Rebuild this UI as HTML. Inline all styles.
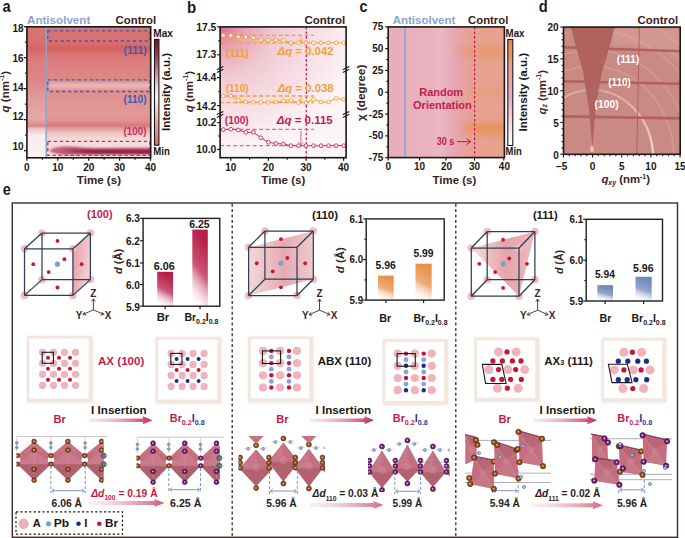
<!DOCTYPE html>
<html><head><meta charset="utf-8"><title>figure</title>
<style>html,body{margin:0;padding:0;background:#ffffff;} body{width:685px;height:538px;overflow:hidden;font-family:"Liberation Sans",sans-serif;} svg{display:block;}</style>
</head><body>
<svg width="685" height="538" viewBox="0 0 685 538" font-family="Liberation Sans, sans-serif"><defs><filter id="blur1" x="-20%" y="-50%" width="140%" height="200%"><feGaussianBlur stdDeviation="1.2"/></filter><filter id="blur2" x="-20%" y="-50%" width="140%" height="200%"><feGaussianBlur stdDeviation="2"/></filter><filter id="blur3" x="-30%" y="-80%" width="160%" height="260%"><feGaussianBlur stdDeviation="3"/></filter><filter id="blur05" x="-10%" y="-10%" width="120%" height="120%"><feGaussianBlur stdDeviation="0.5"/></filter><filter id="shadow" x="-10%" y="-10%" width="130%" height="130%"><feGaussianBlur stdDeviation="0.8"/></filter><clipPath id="clipA"><rect x="26.9" y="26.8" width="123.8" height="131"/></clipPath><linearGradient id="gaR" x1="0" y1="0" x2="0" y2="1"><stop offset="0.0" stop-color="#d87474"/><stop offset="0.1008" stop-color="#d87272"/><stop offset="0.1389" stop-color="#d86a6a"/><stop offset="0.1649" stop-color="#d65e5e"/><stop offset="0.1924" stop-color="#d86c6c"/><stop offset="0.2382" stop-color="#db7a7a"/><stop offset="0.3298" stop-color="#dd8282"/><stop offset="0.4061" stop-color="#df8888"/><stop offset="0.4977" stop-color="#e08e8e"/><stop offset="0.5588" stop-color="#e09494"/><stop offset="0.6733" stop-color="#e29898"/><stop offset="0.7191" stop-color="#df9090"/><stop offset="0.7542" stop-color="#d97878"/><stop offset="0.7802" stop-color="#e4a4a4"/><stop offset="0.8107" stop-color="#eec4c4"/><stop offset="0.8489" stop-color="#f4d8d8"/><stop offset="0.9023" stop-color="#f5dcdc"/><stop offset="1.0" stop-color="#f8e6e6"/></linearGradient><linearGradient id="gaL" x1="0" y1="0" x2="0" y2="1"><stop offset="0.0" stop-color="#d87676"/><stop offset="0.1389" stop-color="#d86c6c"/><stop offset="0.1649" stop-color="#d76262"/><stop offset="0.1924" stop-color="#d86e6e"/><stop offset="0.2534" stop-color="#db7c7c"/><stop offset="0.4061" stop-color="#dd8686"/><stop offset="0.5588" stop-color="#e39c9c"/><stop offset="0.6962" stop-color="#e6a8a8"/><stop offset="0.7267" stop-color="#e29c9c"/><stop offset="0.7542" stop-color="#dc8484"/><stop offset="0.7802" stop-color="#eec4c4"/><stop offset="0.826" stop-color="#f8ebeb"/><stop offset="1.0" stop-color="#fbf3f3"/></linearGradient><linearGradient id="gaM" x1="0" y1="0" x2="1" y2="0"><stop offset="0" stop-color="#8a1838" stop-opacity="0"/><stop offset="0.06" stop-color="#8a1838" stop-opacity="0.6"/><stop offset="0.15" stop-color="#8a1838" stop-opacity="1"/><stop offset="1" stop-color="#8a1838" stop-opacity="1"/></linearGradient><linearGradient id="gaCore" x1="0" y1="0" x2="1" y2="0"><stop offset="0" stop-color="#8a1a3c" stop-opacity="0"/><stop offset="0.2" stop-color="#8a1a3c" stop-opacity="0.6"/><stop offset="0.35" stop-color="#8a1a3c" stop-opacity="1"/><stop offset="1" stop-color="#8a1a3c" stop-opacity="1"/></linearGradient><linearGradient id="gcbA" x1="0" y1="0" x2="0" y2="1"><stop offset="0" stop-color="#7a1030"/><stop offset="0.2" stop-color="#a85068"/><stop offset="0.45" stop-color="#eed8dc"/><stop offset="0.55" stop-color="#fbf4f4"/><stop offset="0.75" stop-color="#eab4b4"/><stop offset="1" stop-color="#d86c6c"/></linearGradient><radialGradient id="gbBG" gradientUnits="userSpaceOnUse" cx="0" cy="0" r="1" gradientTransform="translate(220,27) scale(140,125)"><stop offset="0" stop-color="#dc7090"/><stop offset="0.18" stop-color="#e8a4b4"/><stop offset="0.38" stop-color="#f0c8d2"/><stop offset="0.58" stop-color="#f5d8e0"/><stop offset="0.78" stop-color="#f8e6ea"/><stop offset="0.94" stop-color="#fbf2f4"/><stop offset="1" stop-color="#fcf5f7"/></radialGradient><linearGradient id="gcBG" x1="0" y1="0" x2="1" y2="0"><stop offset="0" stop-color="#e7aebb"/><stop offset="0.35" stop-color="#e9b2be"/><stop offset="0.46" stop-color="#ebb8c4"/><stop offset="0.54" stop-color="#e8a9b8"/><stop offset="0.61" stop-color="#e7a4aa"/><stop offset="0.69" stop-color="#e7a296"/><stop offset="0.78" stop-color="#e7a18e"/><stop offset="1" stop-color="#e6a28e"/></linearGradient><clipPath id="clipC"><rect x="388.2" y="26.9" width="116.2" height="130.7"/></clipPath><linearGradient id="gcbC" x1="0" y1="0" x2="0" y2="1"><stop offset="0" stop-color="#e88a38"/><stop offset="0.25" stop-color="#e8a090"/><stop offset="0.55" stop-color="#e8b0c0"/><stop offset="0.8" stop-color="#f4dde4"/><stop offset="1" stop-color="#ffffff"/></linearGradient><clipPath id="clipD"><rect x="563.5" y="27.1" width="116.7" height="127.2"/></clipPath><linearGradient id="gring" x1="0" y1="90" x2="0" y2="158" gradientUnits="userSpaceOnUse"><stop offset="0" stop-color="#dcaa9c"/><stop offset="0.5" stop-color="#e8c0b0"/><stop offset="1" stop-color="#f4dccb"/></linearGradient><linearGradient id="gpl100" x1="0" y1="0" x2="1" y2="0.4"><stop offset="0" stop-color="#e49aa2"/><stop offset="1" stop-color="#f3d0d3"/></linearGradient><linearGradient id="gpl110" x1="0" y1="0" x2="1" y2="0"><stop offset="0" stop-color="#f3d6d8"/><stop offset="0.55" stop-color="#e2a6ae"/><stop offset="1" stop-color="#efc8cc"/></linearGradient><linearGradient id="gpl111" x1="0" y1="0" x2="1" y2="0"><stop offset="0" stop-color="#f6dcdc"/><stop offset="0.55" stop-color="#e3a4aa"/><stop offset="1" stop-color="#eebcc0"/></linearGradient><linearGradient id="gb100" x1="0.25" y1="0" x2="0" y2="1"><stop offset="0" stop-color="#b81e48"/><stop offset="0.45" stop-color="#b81e48" stop-opacity="0.75"/><stop offset="1" stop-color="#ffffff" stop-opacity="0"/></linearGradient><linearGradient id="gb110" x1="0.25" y1="0" x2="0" y2="1"><stop offset="0" stop-color="#e8914a"/><stop offset="0.45" stop-color="#e8914a" stop-opacity="0.75"/><stop offset="1" stop-color="#ffffff" stop-opacity="0"/></linearGradient><linearGradient id="gb111" x1="0.25" y1="0" x2="0" y2="1"><stop offset="0" stop-color="#6f87b8"/><stop offset="0.45" stop-color="#6f87b8" stop-opacity="0.75"/><stop offset="1" stop-color="#ffffff" stop-opacity="0"/></linearGradient><linearGradient id="gar89" x1="0" y1="0" x2="1" y2="0"><stop offset="0" stop-color="#f3c8d0" stop-opacity="0.35"/><stop offset="1" stop-color="#c42a50"/></linearGradient><linearGradient id="gar309" x1="0" y1="0" x2="1" y2="0"><stop offset="0" stop-color="#f3c8d0" stop-opacity="0.35"/><stop offset="1" stop-color="#c42a50"/></linearGradient><linearGradient id="gar533" x1="0" y1="0" x2="1" y2="0"><stop offset="0" stop-color="#f3c8d0" stop-opacity="0.35"/><stop offset="1" stop-color="#c42a50"/></linearGradient><clipPath id="cs1"><rect x="16.5" y="430" width="87" height="60"/></clipPath><clipPath id="cs2"><rect x="136.5" y="430" width="83.3" height="60"/></clipPath><clipPath id="cl238"><rect x="238.5" y="430" width="86.5" height="62"/></clipPath><clipPath id="cl368"><rect x="368" y="430" width="81.5" height="62"/></clipPath><clipPath id="cl111a"><rect x="465" y="428" width="90" height="66"/></clipPath><clipPath id="cl111b"><rect x="590" y="428" width="82" height="66"/></clipPath><linearGradient id="gdd1" x1="0" y1="0" x2="1" y2="0"><stop offset="0" stop-color="#f6d6dc" stop-opacity="0.35"/><stop offset="1" stop-color="#d05a78"/></linearGradient><linearGradient id="gdd2" x1="0" y1="0" x2="1" y2="0"><stop offset="0" stop-color="#f6d6dc" stop-opacity="0.35"/><stop offset="1" stop-color="#d86a80"/></linearGradient><linearGradient id="gdd3" x1="0" y1="0" x2="1" y2="0"><stop offset="0" stop-color="#f6d6dc" stop-opacity="0.35"/><stop offset="1" stop-color="#d86a80"/></linearGradient></defs><g clip-path="url(#clipA)"><rect x="26.9" y="26.8" width="19.3" height="131" fill="url(#gaL)" stroke="none" stroke-width="1" /><rect x="46.2" y="26.8" width="104.5" height="131" fill="url(#gaR)" stroke="none" stroke-width="1" /><rect x="49" y="82.0" width="105" height="7.5" fill="#e6a6a6" filter="url(#blur1)"/><rect x="49" y="84.2" width="105" height="3.0" fill="#ecbaba" filter="url(#blur1)"/><path d="M49,150.6 C54,146.2 68,145.6 82,147.4 C95,148.2 120,147.8 155,147.8 L155,154.6 C120,154.6 95,154.6 82,154.6 C68,155.6 54,155.2 49,150.6 Z" fill="#c06078" filter="url(#blur1)"/><path d="M58,150.8 C66,148.8 78,148.8 90,149.7 C110,150 130,149.8 155,149.8 L155,153.4 C130,153.4 110,153.4 90,153.4 C78,153.6 66,153.4 58,150.8 Z" fill="url(#gaCore)" filter="url(#blur1)"/></g><line x1="46.2" y1="26.8" x2="46.2" y2="157.8" stroke="#8da3cf" stroke-width="1.5" /><rect x="47.8" y="30.8" width="102" height="10.2" fill="none" stroke="#3a5cb0" stroke-width="1.3" stroke-dasharray="3.3,2.7"/><rect x="47.8" y="79.9" width="102" height="11.6" fill="none" stroke="#3a5cb0" stroke-width="1.3" stroke-dasharray="3.3,2.7"/><rect x="47.8" y="141.4" width="102" height="14" fill="none" stroke="#c8305a" stroke-width="1.3" stroke-dasharray="3.3,2.7"/><rect x="26.9" y="26.8" width="123.8" height="131" fill="none" stroke="#1c1616" stroke-width="1.6" /><line x1="23.9" y1="150.6" x2="26.9" y2="150.6" stroke="#1c1616" stroke-width="1.3" /><line x1="24.9" y1="135.11" x2="26.9" y2="135.11" stroke="#1c1616" stroke-width="1.1" /><line x1="23.9" y1="119.62" x2="26.9" y2="119.62" stroke="#1c1616" stroke-width="1.3" /><line x1="24.9" y1="104.13" x2="26.9" y2="104.13" stroke="#1c1616" stroke-width="1.1" /><line x1="23.9" y1="88.64" x2="26.9" y2="88.64" stroke="#1c1616" stroke-width="1.3" /><line x1="24.9" y1="73.15" x2="26.9" y2="73.15" stroke="#1c1616" stroke-width="1.1" /><line x1="23.9" y1="57.66" x2="26.9" y2="57.66" stroke="#1c1616" stroke-width="1.3" /><line x1="24.9" y1="42.17" x2="26.9" y2="42.17" stroke="#1c1616" stroke-width="1.1" /><line x1="23.9" y1="26.68" x2="26.9" y2="26.68" stroke="#1c1616" stroke-width="1.3" /><text x="23.6" y="31.6" font-size="10" font-weight="bold" fill="#1c1616" text-anchor="end" >18</text><text x="23.6" y="61.6" font-size="10" font-weight="bold" fill="#1c1616" text-anchor="end" >16</text><text x="23.6" y="91" font-size="10" font-weight="bold" fill="#1c1616" text-anchor="end" >14</text><text x="23.6" y="120.4" font-size="10" font-weight="bold" fill="#1c1616" text-anchor="end" >12</text><text x="23.6" y="149.6" font-size="10" font-weight="bold" fill="#1c1616" text-anchor="end" >10</text><line x1="26.9" y1="157.8" x2="26.9" y2="160.8" stroke="#1c1616" stroke-width="1.2" /><line x1="42.35" y1="157.8" x2="42.35" y2="159.8" stroke="#1c1616" stroke-width="1.2" /><line x1="57.8" y1="157.8" x2="57.8" y2="160.8" stroke="#1c1616" stroke-width="1.2" /><line x1="73.25" y1="157.8" x2="73.25" y2="159.8" stroke="#1c1616" stroke-width="1.2" /><line x1="88.7" y1="157.8" x2="88.7" y2="160.8" stroke="#1c1616" stroke-width="1.2" /><line x1="104.15" y1="157.8" x2="104.15" y2="159.8" stroke="#1c1616" stroke-width="1.2" /><line x1="119.6" y1="157.8" x2="119.6" y2="160.8" stroke="#1c1616" stroke-width="1.2" /><line x1="135.05" y1="157.8" x2="135.05" y2="159.8" stroke="#1c1616" stroke-width="1.2" /><line x1="150.5" y1="157.8" x2="150.5" y2="160.8" stroke="#1c1616" stroke-width="1.2" /><text x="26.9" y="171.2" font-size="10" font-weight="bold" fill="#1c1616" text-anchor="middle" >0</text><text x="57.8" y="171.2" font-size="10" font-weight="bold" fill="#1c1616" text-anchor="middle" >10</text><text x="88.7" y="171.2" font-size="10" font-weight="bold" fill="#1c1616" text-anchor="middle" >20</text><text x="119.6" y="171.2" font-size="10" font-weight="bold" fill="#1c1616" text-anchor="middle" >30</text><text x="150.5" y="171.2" font-size="10" font-weight="bold" fill="#1c1616" text-anchor="middle" >40</text><text x="98.9" y="183.8" font-size="11.5" font-weight="bold" fill="#3a2222" text-anchor="middle" textLength="44.2" lengthAdjust="spacingAndGlyphs" >Time (s)</text><text transform="translate(5.3,91.7) rotate(-90)" x="0" y="0" font-size="11.5" font-weight="bold" fill="#3a2222" text-anchor="middle" dominant-baseline="central" textLength="41.5" lengthAdjust="spacingAndGlyphs"><tspan font-style="italic">q</tspan> (nm<tspan font-size="7" dy="-4">-1</tspan><tspan dy="4">)</tspan></text><text x="2.6" y="12" font-size="16" font-weight="bold" fill="#1c1616" text-anchor="start" textLength="8.2" lengthAdjust="spacingAndGlyphs" >a</text><text x="27" y="23.8" font-size="11.5" font-weight="bold" fill="#8da3cf" text-anchor="start" textLength="63.3" lengthAdjust="spacingAndGlyphs" >Antisolvent</text><text x="115.6" y="23.9" font-size="11.5" font-weight="bold" fill="#3a2222" text-anchor="start" textLength="40.5" lengthAdjust="spacingAndGlyphs" >Control</text><text x="123.6" y="54.3" font-size="10.5" font-weight="bold" fill="#3a5cb0" text-anchor="start" textLength="23" lengthAdjust="spacingAndGlyphs" >(111)</text><text x="123.6" y="102.6" font-size="10.5" font-weight="bold" fill="#3a5cb0" text-anchor="start" textLength="23" lengthAdjust="spacingAndGlyphs" >(110)</text><text x="123.6" y="135.2" font-size="10.5" font-weight="bold" fill="#c8305a" text-anchor="start" textLength="23" lengthAdjust="spacingAndGlyphs" >(100)</text><rect x="154.5" y="39.4" width="4.4" height="105.8" fill="url(#gcbA)" stroke="#1c1616" stroke-width="1.1" /><text x="153.3" y="36.6" font-size="10" font-weight="bold" fill="#1c1616" text-anchor="start" textLength="19.6" lengthAdjust="spacingAndGlyphs" >Max</text><text x="153.3" y="154.6" font-size="10" font-weight="bold" fill="#1c1616" text-anchor="start" textLength="16.5" lengthAdjust="spacingAndGlyphs" >Min</text><text transform="translate(166.3,92) rotate(-90)" x="0" y="0" font-size="11.3" font-weight="bold" fill="#1c1616" text-anchor="middle" dominant-baseline="central" textLength="78" lengthAdjust="spacingAndGlyphs">Intensity (a.u.)</text><rect x="220.1" y="26.9" width="126" height="130.8" fill="url(#gbBG)" stroke="none" stroke-width="1" /><line x1="306.3" y1="26.9" x2="306.3" y2="157.7" stroke="#c4185a" stroke-width="1.2" stroke-dasharray="2.6,2"/><line x1="220.1" y1="35.4" x2="314" y2="35.4" stroke="#f0a03c" stroke-width="1.3" stroke-dasharray="4,2.5"/><line x1="220.1" y1="42.8" x2="314" y2="42.8" stroke="#f0a03c" stroke-width="1.3" stroke-dasharray="4,2.5"/><line x1="220.1" y1="96" x2="314" y2="96" stroke="#f0a03c" stroke-width="1.3" stroke-dasharray="4,2.5"/><line x1="220.1" y1="102.7" x2="314" y2="102.7" stroke="#f0a03c" stroke-width="1.3" stroke-dasharray="4,2.5"/><line x1="220.1" y1="129.3" x2="314" y2="129.3" stroke="#e06a8a" stroke-width="1.3" stroke-dasharray="4,2.5"/><line x1="220.1" y1="145.7" x2="314" y2="145.7" stroke="#e06a8a" stroke-width="1.3" stroke-dasharray="4,2.5"/><polyline points="223.28,35.4 230.8,35.6 238.32,36.8 245.84,37 253.36,37.8 260.88,40 268.4,40 275.92,40 283.44,40.3 290.96,42.8 298.48,42.8 306,42.8 313.52,42.8 321.04,42.8 328.56,42.8 336.08,42.8 343.6,42.8" fill="none" stroke="#f0a03c" stroke-width="1" /><circle cx="223.28" cy="35.4" r="1.9" fill="#fdf3f4" stroke="#f0a03c" stroke-width="0.9" /><circle cx="230.8" cy="35.6" r="1.9" fill="#fdf3f4" stroke="#f0a03c" stroke-width="0.9" /><circle cx="238.32" cy="36.8" r="1.9" fill="#fdf3f4" stroke="#f0a03c" stroke-width="0.9" /><circle cx="245.84" cy="37" r="1.9" fill="#fdf3f4" stroke="#f0a03c" stroke-width="0.9" /><circle cx="253.36" cy="37.8" r="1.9" fill="#fdf3f4" stroke="#f0a03c" stroke-width="0.9" /><circle cx="260.88" cy="40" r="1.9" fill="#fdf3f4" stroke="#f0a03c" stroke-width="0.9" /><circle cx="268.4" cy="40" r="1.9" fill="#fdf3f4" stroke="#f0a03c" stroke-width="0.9" /><circle cx="275.92" cy="40" r="1.9" fill="#fdf3f4" stroke="#f0a03c" stroke-width="0.9" /><circle cx="283.44" cy="40.3" r="1.9" fill="#fdf3f4" stroke="#f0a03c" stroke-width="0.9" /><circle cx="290.96" cy="42.8" r="1.9" fill="#fdf3f4" stroke="#f0a03c" stroke-width="0.9" /><circle cx="298.48" cy="42.8" r="1.9" fill="#fdf3f4" stroke="#f0a03c" stroke-width="0.9" /><circle cx="306" cy="42.8" r="1.9" fill="#fdf3f4" stroke="#f0a03c" stroke-width="0.9" /><circle cx="313.52" cy="42.8" r="1.9" fill="#fdf3f4" stroke="#f0a03c" stroke-width="0.9" /><circle cx="321.04" cy="42.8" r="1.9" fill="#fdf3f4" stroke="#f0a03c" stroke-width="0.9" /><circle cx="328.56" cy="42.8" r="1.9" fill="#fdf3f4" stroke="#f0a03c" stroke-width="0.9" /><circle cx="336.08" cy="42.8" r="1.9" fill="#fdf3f4" stroke="#f0a03c" stroke-width="0.9" /><circle cx="343.6" cy="42.8" r="1.9" fill="#fdf3f4" stroke="#f0a03c" stroke-width="0.9" /><polyline points="223.28,96 230.8,96 238.32,100.3 245.84,101.9 253.36,102.3 260.88,102.5 268.4,102.3 275.92,102 283.44,101 290.96,100.5 298.48,102.7 306,102.7 313.52,99.3 321.04,102 328.56,102 336.08,98.4 343.6,99.5" fill="none" stroke="#f0a03c" stroke-width="1" /><circle cx="223.28" cy="96" r="1.9" fill="#fdf3f4" stroke="#f0a03c" stroke-width="0.9" /><circle cx="230.8" cy="96" r="1.9" fill="#fdf3f4" stroke="#f0a03c" stroke-width="0.9" /><circle cx="238.32" cy="100.3" r="1.9" fill="#fdf3f4" stroke="#f0a03c" stroke-width="0.9" /><circle cx="245.84" cy="101.9" r="1.9" fill="#fdf3f4" stroke="#f0a03c" stroke-width="0.9" /><circle cx="253.36" cy="102.3" r="1.9" fill="#fdf3f4" stroke="#f0a03c" stroke-width="0.9" /><circle cx="260.88" cy="102.5" r="1.9" fill="#fdf3f4" stroke="#f0a03c" stroke-width="0.9" /><circle cx="268.4" cy="102.3" r="1.9" fill="#fdf3f4" stroke="#f0a03c" stroke-width="0.9" /><circle cx="275.92" cy="102" r="1.9" fill="#fdf3f4" stroke="#f0a03c" stroke-width="0.9" /><circle cx="283.44" cy="101" r="1.9" fill="#fdf3f4" stroke="#f0a03c" stroke-width="0.9" /><circle cx="290.96" cy="100.5" r="1.9" fill="#fdf3f4" stroke="#f0a03c" stroke-width="0.9" /><circle cx="298.48" cy="102.7" r="1.9" fill="#fdf3f4" stroke="#f0a03c" stroke-width="0.9" /><circle cx="306" cy="102.7" r="1.9" fill="#fdf3f4" stroke="#f0a03c" stroke-width="0.9" /><circle cx="313.52" cy="99.3" r="1.9" fill="#fdf3f4" stroke="#f0a03c" stroke-width="0.9" /><circle cx="321.04" cy="102" r="1.9" fill="#fdf3f4" stroke="#f0a03c" stroke-width="0.9" /><circle cx="328.56" cy="102" r="1.9" fill="#fdf3f4" stroke="#f0a03c" stroke-width="0.9" /><circle cx="336.08" cy="98.4" r="1.9" fill="#fdf3f4" stroke="#f0a03c" stroke-width="0.9" /><circle cx="343.6" cy="99.5" r="1.9" fill="#fdf3f4" stroke="#f0a03c" stroke-width="0.9" /><polyline points="223.28,129.6 230.8,129.2 238.32,130 245.84,132.3 253.36,132.3 260.88,137.7 268.4,142.3 275.92,143.5 283.44,144 290.96,145.7 298.48,145.7 306,145.7 313.52,145.7 321.04,145.7 328.56,145.7 336.08,145.7 343.6,145.7" fill="none" stroke="#c8305a" stroke-width="1" /><circle cx="223.28" cy="129.6" r="1.9" fill="#fdf3f4" stroke="#c8305a" stroke-width="0.9" /><circle cx="230.8" cy="129.2" r="1.9" fill="#fdf3f4" stroke="#c8305a" stroke-width="0.9" /><circle cx="238.32" cy="130" r="1.9" fill="#fdf3f4" stroke="#c8305a" stroke-width="0.9" /><circle cx="245.84" cy="132.3" r="1.9" fill="#fdf3f4" stroke="#c8305a" stroke-width="0.9" /><circle cx="253.36" cy="132.3" r="1.9" fill="#fdf3f4" stroke="#c8305a" stroke-width="0.9" /><circle cx="260.88" cy="137.7" r="1.9" fill="#fdf3f4" stroke="#c8305a" stroke-width="0.9" /><circle cx="268.4" cy="142.3" r="1.9" fill="#fdf3f4" stroke="#c8305a" stroke-width="0.9" /><circle cx="275.92" cy="143.5" r="1.9" fill="#fdf3f4" stroke="#c8305a" stroke-width="0.9" /><circle cx="283.44" cy="144" r="1.9" fill="#fdf3f4" stroke="#c8305a" stroke-width="0.9" /><circle cx="290.96" cy="145.7" r="1.9" fill="#fdf3f4" stroke="#c8305a" stroke-width="0.9" /><circle cx="298.48" cy="145.7" r="1.9" fill="#fdf3f4" stroke="#c8305a" stroke-width="0.9" /><circle cx="306" cy="145.7" r="1.9" fill="#fdf3f4" stroke="#c8305a" stroke-width="0.9" /><circle cx="313.52" cy="145.7" r="1.9" fill="#fdf3f4" stroke="#c8305a" stroke-width="0.9" /><circle cx="321.04" cy="145.7" r="1.9" fill="#fdf3f4" stroke="#c8305a" stroke-width="0.9" /><circle cx="328.56" cy="145.7" r="1.9" fill="#fdf3f4" stroke="#c8305a" stroke-width="0.9" /><circle cx="336.08" cy="145.7" r="1.9" fill="#fdf3f4" stroke="#c8305a" stroke-width="0.9" /><circle cx="343.6" cy="145.7" r="1.9" fill="#fdf3f4" stroke="#c8305a" stroke-width="0.9" /><line x1="300.9" y1="36.5" x2="300.9" y2="41.8" stroke="#f0a03c" stroke-width="0.9" /><polyline points="298.8,39.7 300.9,42.3 303,39.7" fill="none" stroke="#f0a03c" stroke-width="0.9" /><line x1="300.9" y1="97" x2="300.9" y2="101.7" stroke="#f0a03c" stroke-width="0.9" /><polyline points="298.8,99.6 300.9,102.2 303,99.6" fill="none" stroke="#f0a03c" stroke-width="0.9" /><line x1="300.9" y1="131" x2="300.9" y2="144.5" stroke="#d85a7a" stroke-width="0.9" /><polyline points="298.8,142.4 300.9,145 303,142.4" fill="none" stroke="#d85a7a" stroke-width="0.9" /><rect x="220.1" y="26.9" width="126" height="130.8" fill="none" stroke="#1c1616" stroke-width="1.6" /><line x1="216.9" y1="69.7" x2="223.3" y2="66.5" stroke="#1c1616" stroke-width="1.1" /><line x1="216.9" y1="72.5" x2="223.3" y2="69.3" stroke="#1c1616" stroke-width="1.1" /><line x1="342.9" y1="69.7" x2="349.3" y2="66.5" stroke="#1c1616" stroke-width="1.1" /><line x1="342.9" y1="72.5" x2="349.3" y2="69.3" stroke="#1c1616" stroke-width="1.1" /><line x1="216.9" y1="114.6" x2="223.3" y2="111.4" stroke="#1c1616" stroke-width="1.1" /><line x1="216.9" y1="117.4" x2="223.3" y2="114.2" stroke="#1c1616" stroke-width="1.1" /><line x1="342.9" y1="114.6" x2="349.3" y2="111.4" stroke="#1c1616" stroke-width="1.1" /><line x1="342.9" y1="117.4" x2="349.3" y2="114.2" stroke="#1c1616" stroke-width="1.1" /><line x1="217.1" y1="26.9" x2="220.1" y2="26.9" stroke="#1c1616" stroke-width="1.2" /><line x1="217.1" y1="54.8" x2="220.1" y2="54.8" stroke="#1c1616" stroke-width="1.2" /><line x1="218.1" y1="40.85" x2="220.1" y2="40.85" stroke="#1c1616" stroke-width="1" /><line x1="217.1" y1="77.6" x2="220.1" y2="77.6" stroke="#1c1616" stroke-width="1.2" /><line x1="217.1" y1="105.6" x2="220.1" y2="105.6" stroke="#1c1616" stroke-width="1.2" /><line x1="218.1" y1="91.6" x2="220.1" y2="91.6" stroke="#1c1616" stroke-width="1" /><line x1="217.1" y1="122.6" x2="220.1" y2="122.6" stroke="#1c1616" stroke-width="1.2" /><line x1="217.1" y1="149.4" x2="220.1" y2="149.4" stroke="#1c1616" stroke-width="1.2" /><line x1="218.1" y1="136" x2="220.1" y2="136" stroke="#1c1616" stroke-width="1" /><text x="216.4" y="30.6" font-size="10" font-weight="bold" fill="#1c1616" text-anchor="end" textLength="20.2" lengthAdjust="spacingAndGlyphs" >17.5</text><text x="216.4" y="58.3" font-size="10" font-weight="bold" fill="#1c1616" text-anchor="end" textLength="20.2" lengthAdjust="spacingAndGlyphs" >17.3</text><text x="216.4" y="81.3" font-size="10" font-weight="bold" fill="#1c1616" text-anchor="end" textLength="20.2" lengthAdjust="spacingAndGlyphs" >14.4</text><text x="216.4" y="109.6" font-size="10" font-weight="bold" fill="#1c1616" text-anchor="end" textLength="20.2" lengthAdjust="spacingAndGlyphs" >14.2</text><text x="216.4" y="126.3" font-size="10" font-weight="bold" fill="#1c1616" text-anchor="end" textLength="20.2" lengthAdjust="spacingAndGlyphs" >10.2</text><text x="216.4" y="153.1" font-size="10" font-weight="bold" fill="#1c1616" text-anchor="end" textLength="20.2" lengthAdjust="spacingAndGlyphs" >10.0</text><line x1="230.8" y1="157.7" x2="230.8" y2="160.7" stroke="#1c1616" stroke-width="1.2" /><line x1="249.6" y1="157.7" x2="249.6" y2="159.7" stroke="#1c1616" stroke-width="1.2" /><line x1="268.4" y1="157.7" x2="268.4" y2="160.7" stroke="#1c1616" stroke-width="1.2" /><line x1="287.2" y1="157.7" x2="287.2" y2="159.7" stroke="#1c1616" stroke-width="1.2" /><line x1="306" y1="157.7" x2="306" y2="160.7" stroke="#1c1616" stroke-width="1.2" /><line x1="324.8" y1="157.7" x2="324.8" y2="159.7" stroke="#1c1616" stroke-width="1.2" /><line x1="343.6" y1="157.7" x2="343.6" y2="160.7" stroke="#1c1616" stroke-width="1.2" /><text x="230.8" y="171.2" font-size="10" font-weight="bold" fill="#1c1616" text-anchor="middle" >10</text><text x="268.4" y="171.2" font-size="10" font-weight="bold" fill="#1c1616" text-anchor="middle" >20</text><text x="306" y="171.2" font-size="10" font-weight="bold" fill="#1c1616" text-anchor="middle" >30</text><text x="343.6" y="171.2" font-size="10" font-weight="bold" fill="#1c1616" text-anchor="middle" >40</text><text x="283.3" y="183.8" font-size="11.5" font-weight="bold" fill="#3a2222" text-anchor="middle" textLength="44" lengthAdjust="spacingAndGlyphs" >Time (s)</text><text transform="translate(189,91.6) rotate(-90)" x="0" y="0" font-size="11.5" font-weight="bold" fill="#3a2222" text-anchor="middle" dominant-baseline="central" textLength="41.5" lengthAdjust="spacingAndGlyphs"><tspan font-style="italic">q</tspan> (nm<tspan font-size="7" dy="-4">-1</tspan><tspan dy="4">)</tspan></text><text x="187" y="12.5" font-size="16" font-weight="bold" fill="#1c1616" text-anchor="start" textLength="9.2" lengthAdjust="spacingAndGlyphs" >b</text><text x="304.4" y="23.6" font-size="11.5" font-weight="bold" fill="#3a2222" text-anchor="start" textLength="40.9" lengthAdjust="spacingAndGlyphs" >Control</text><text x="226" y="57" font-size="10.8" font-weight="bold" fill="#f0a03c" text-anchor="start" textLength="22.6" lengthAdjust="spacingAndGlyphs" >(111)</text><text x="225.8" y="92" font-size="10.8" font-weight="bold" fill="#f0a03c" text-anchor="start" textLength="22.7" lengthAdjust="spacingAndGlyphs" >(110)</text><text x="224.8" y="124.4" font-size="10.8" font-weight="bold" fill="#c0285a" text-anchor="start" textLength="24" lengthAdjust="spacingAndGlyphs" >(100)</text><text x="277.6" y="54.8" font-size="10.3" font-weight="bold" fill="#f0a03c" textLength="56" lengthAdjust="spacingAndGlyphs"><tspan font-style="italic">Δq</tspan> = 0.042</text><text x="277.7" y="92.4" font-size="10.3" font-weight="bold" fill="#f0a03c" textLength="56" lengthAdjust="spacingAndGlyphs"><tspan font-style="italic">Δq</tspan> = 0.038</text><text x="276.7" y="124.3" font-size="10.3" font-weight="bold" fill="#c21b4b" textLength="56" lengthAdjust="spacingAndGlyphs"><tspan font-style="italic">Δq</tspan> = 0.115</text><g clip-path="url(#clipC)"><rect x="388.2" y="26.9" width="116.2" height="130.7" fill="url(#gcBG)" stroke="none" stroke-width="1" /><ellipse cx="492" cy="51.5" rx="36" ry="5" fill="#e8924a" opacity="0.45" filter="url(#blur3)"/><ellipse cx="496" cy="128.5" rx="34" ry="6" fill="#e88c40" opacity="0.65" filter="url(#blur3)"/><ellipse cx="494" cy="92" rx="26" ry="3" fill="#e8944c" opacity="0.3" filter="url(#blur2)"/></g><line x1="404.9" y1="26.9" x2="404.9" y2="157.6" stroke="#8da3cf" stroke-width="1.5" /><line x1="474.6" y1="26.9" x2="474.6" y2="157.6" stroke="#c4185a" stroke-width="1.2" stroke-dasharray="2.6,2"/><rect x="388.2" y="26.9" width="116.2" height="130.7" fill="none" stroke="#1c1616" stroke-width="1.6" /><line x1="385.2" y1="157.65" x2="388.2" y2="157.65" stroke="#1c1616" stroke-width="1.2" /><line x1="385.2" y1="135.85" x2="388.2" y2="135.85" stroke="#1c1616" stroke-width="1.2" /><line x1="385.2" y1="114.05" x2="388.2" y2="114.05" stroke="#1c1616" stroke-width="1.2" /><line x1="385.2" y1="92.25" x2="388.2" y2="92.25" stroke="#1c1616" stroke-width="1.2" /><line x1="385.2" y1="70.45" x2="388.2" y2="70.45" stroke="#1c1616" stroke-width="1.2" /><line x1="385.2" y1="48.65" x2="388.2" y2="48.65" stroke="#1c1616" stroke-width="1.2" /><line x1="385.2" y1="26.85" x2="388.2" y2="26.85" stroke="#1c1616" stroke-width="1.2" /><line x1="386.2" y1="146.75" x2="388.2" y2="146.75" stroke="#1c1616" stroke-width="1" /><line x1="386.2" y1="124.95" x2="388.2" y2="124.95" stroke="#1c1616" stroke-width="1" /><line x1="386.2" y1="103.15" x2="388.2" y2="103.15" stroke="#1c1616" stroke-width="1" /><line x1="386.2" y1="81.35" x2="388.2" y2="81.35" stroke="#1c1616" stroke-width="1" /><line x1="386.2" y1="59.55" x2="388.2" y2="59.55" stroke="#1c1616" stroke-width="1" /><line x1="386.2" y1="37.75" x2="388.2" y2="37.75" stroke="#1c1616" stroke-width="1" /><text x="383.3" y="161.25" font-size="10" font-weight="bold" fill="#1c1616" text-anchor="end" >-75</text><text x="383.3" y="139.45" font-size="10" font-weight="bold" fill="#1c1616" text-anchor="end" >-50</text><text x="383.3" y="117.65" font-size="10" font-weight="bold" fill="#1c1616" text-anchor="end" >-25</text><text x="383.3" y="95.85" font-size="10" font-weight="bold" fill="#1c1616" text-anchor="end" >0</text><text x="383.3" y="74.05" font-size="10" font-weight="bold" fill="#1c1616" text-anchor="end" >25</text><text x="383.3" y="52.25" font-size="10" font-weight="bold" fill="#1c1616" text-anchor="end" >50</text><text x="383.3" y="30.45" font-size="10" font-weight="bold" fill="#1c1616" text-anchor="end" >75</text><line x1="388.2" y1="157.6" x2="388.2" y2="160.6" stroke="#1c1616" stroke-width="1.2" /><line x1="419.6" y1="157.6" x2="419.6" y2="160.6" stroke="#1c1616" stroke-width="1.2" /><line x1="446" y1="157.6" x2="446" y2="160.6" stroke="#1c1616" stroke-width="1.2" /><line x1="474.5" y1="157.6" x2="474.5" y2="160.6" stroke="#1c1616" stroke-width="1.2" /><line x1="503.8" y1="157.6" x2="503.8" y2="160.6" stroke="#1c1616" stroke-width="1.2" /><text x="388.2" y="170.2" font-size="10" font-weight="bold" fill="#1c1616" text-anchor="middle" >0</text><text x="419.6" y="170.2" font-size="10" font-weight="bold" fill="#1c1616" text-anchor="middle" >10</text><text x="446.6" y="170.2" font-size="10" font-weight="bold" fill="#1c1616" text-anchor="middle" >20</text><text x="474.5" y="170.2" font-size="10" font-weight="bold" fill="#1c1616" text-anchor="middle" >30</text><text x="504.4" y="170.2" font-size="10" font-weight="bold" fill="#1c1616" text-anchor="middle" >40</text><text x="454.4" y="183.8" font-size="11.5" font-weight="bold" fill="#3a2222" text-anchor="middle" textLength="43.6" lengthAdjust="spacingAndGlyphs" >Time (s)</text><text transform="translate(361,92.9) rotate(-90)" x="0" y="0" font-size="11.5" font-weight="bold" fill="#3a2222" text-anchor="middle" dominant-baseline="central" textLength="56.4" lengthAdjust="spacingAndGlyphs">χ (degree)</text><text x="359.6" y="11.8" font-size="16" font-weight="bold" fill="#1c1616" text-anchor="start" textLength="8" lengthAdjust="spacingAndGlyphs" >c</text><text x="392.7" y="23.8" font-size="11.5" font-weight="bold" fill="#8da3cf" text-anchor="start" textLength="62.7" lengthAdjust="spacingAndGlyphs" >Antisolvent</text><text x="468.1" y="23.8" font-size="11.5" font-weight="bold" fill="#3a2222" text-anchor="start" textLength="40.2" lengthAdjust="spacingAndGlyphs" >Control</text><text x="441.2" y="95.8" font-size="11.5" font-weight="bold" fill="#c21b4b" text-anchor="middle" textLength="43.8" lengthAdjust="spacingAndGlyphs" >Random</text><text x="442.4" y="109.4" font-size="11.5" font-weight="bold" fill="#c21b4b" text-anchor="middle" textLength="58.7" lengthAdjust="spacingAndGlyphs" >Orientation</text><text x="436.8" y="145.3" font-size="10" font-weight="bold" fill="#c21b4b" text-anchor="start" textLength="17.5" lengthAdjust="spacingAndGlyphs" >30 s</text><line x1="457" y1="141.6" x2="470.5" y2="141.6" stroke="#c21b4b" stroke-width="1" /><polyline points="466.5,138.6 470.8,141.6 466.5,144.6" fill="none" stroke="#c21b4b" stroke-width="1" /><rect x="507.8" y="39.5" width="5" height="106" fill="url(#gcbC)" stroke="#1c1616" stroke-width="1.1" /><text x="505.6" y="37.3" font-size="10" font-weight="bold" fill="#1c1616" text-anchor="start" textLength="18.9" lengthAdjust="spacingAndGlyphs" >Max</text><text x="505.6" y="154.7" font-size="10" font-weight="bold" fill="#1c1616" text-anchor="start" textLength="16.2" lengthAdjust="spacingAndGlyphs" >Min</text><text transform="translate(522.9,92.2) rotate(-90)" x="0" y="0" font-size="11.3" font-weight="bold" fill="#1c1616" text-anchor="middle" dominant-baseline="central" textLength="78.6" lengthAdjust="spacingAndGlyphs">Intensity (a.u.)</text><g clip-path="url(#clipD)"><rect x="563.5" y="27.1" width="116.7" height="127.2" fill="#c98a84" stroke="none" stroke-width="1" /><path d="M612,27 L680,27 L680,60 C660,50 640,44 612,46 Z" fill="#d9a39b" opacity="0.55" filter="url(#blur2)"/><ellipse cx="592" cy="158" rx="82" ry="92" fill="none" stroke="#efc8be" stroke-width="2" opacity="0.22" filter="url(#blur05)"/><ellipse cx="592" cy="158" rx="97" ry="108" fill="none" stroke="#efc8be" stroke-width="2" opacity="0.2" filter="url(#blur05)"/><ellipse cx="592" cy="158" rx="117" ry="128" fill="none" stroke="#efc8be" stroke-width="2" opacity="0.22" filter="url(#blur05)"/><ellipse cx="592" cy="158" rx="136" ry="148" fill="none" stroke="#efc8be" stroke-width="2" opacity="0.18" filter="url(#blur05)"/><ellipse cx="592" cy="158.5" rx="61.2" ry="68.5" fill="none" stroke="url(#gring)" stroke-width="2.2" filter="url(#blur05)"/><line x1="563.5" y1="47.3" x2="680.2" y2="51.2" stroke="#b45f60" stroke-width="2.6" /><line x1="563.5" y1="81.2" x2="680.2" y2="83.8" stroke="#b45f60" stroke-width="2.6" /><line x1="563.5" y1="116.4" x2="680.2" y2="118.4" stroke="#b45f60" stroke-width="2.6" /><line x1="639.4" y1="27.1" x2="636.8" y2="154.3" stroke="#b46262" stroke-width="1" /><polygon points="570.5,26 614.9,26 609,48.5 601.5,74 598.5,91 595.6,110 593.8,130 592.3,147.5 590.8,130 589,110 586.1,91 583.6,74 576.4,48.5" fill="#b1625d" stroke="none" stroke-width="0" /><path d="M580.5,92.2 Q583.5,89.8 586.3,90.4 L586.0,92.0 Z" fill="#78aee0"/><path d="M604.5,92.2 Q601.5,89.8 598.5,90.4 L598.8,92.0 Z" fill="#78aee0"/><ellipse cx="592" cy="149" rx="1.8" ry="3" fill="#f0d8b0" opacity="0.8"/></g><rect x="563.5" y="27.1" width="116.7" height="127.2" fill="none" stroke="#1c1616" stroke-width="1.6" /><line x1="560.3" y1="154.3" x2="563.5" y2="154.3" stroke="#1c1616" stroke-width="1.1" /><line x1="561.5" y1="147.94" x2="563.5" y2="147.94" stroke="#1c1616" stroke-width="1.1" /><line x1="561.5" y1="141.58" x2="563.5" y2="141.58" stroke="#1c1616" stroke-width="1.1" /><line x1="561.5" y1="135.22" x2="563.5" y2="135.22" stroke="#1c1616" stroke-width="1.1" /><line x1="561.5" y1="128.86" x2="563.5" y2="128.86" stroke="#1c1616" stroke-width="1.1" /><line x1="560.3" y1="122.5" x2="563.5" y2="122.5" stroke="#1c1616" stroke-width="1.1" /><line x1="561.5" y1="116.14" x2="563.5" y2="116.14" stroke="#1c1616" stroke-width="1.1" /><line x1="561.5" y1="109.78" x2="563.5" y2="109.78" stroke="#1c1616" stroke-width="1.1" /><line x1="561.5" y1="103.42" x2="563.5" y2="103.42" stroke="#1c1616" stroke-width="1.1" /><line x1="561.5" y1="97.06" x2="563.5" y2="97.06" stroke="#1c1616" stroke-width="1.1" /><line x1="560.3" y1="90.7" x2="563.5" y2="90.7" stroke="#1c1616" stroke-width="1.1" /><line x1="561.5" y1="84.34" x2="563.5" y2="84.34" stroke="#1c1616" stroke-width="1.1" /><line x1="561.5" y1="77.98" x2="563.5" y2="77.98" stroke="#1c1616" stroke-width="1.1" /><line x1="561.5" y1="71.62" x2="563.5" y2="71.62" stroke="#1c1616" stroke-width="1.1" /><line x1="561.5" y1="65.26" x2="563.5" y2="65.26" stroke="#1c1616" stroke-width="1.1" /><line x1="560.3" y1="58.9" x2="563.5" y2="58.9" stroke="#1c1616" stroke-width="1.1" /><line x1="561.5" y1="52.54" x2="563.5" y2="52.54" stroke="#1c1616" stroke-width="1.1" /><line x1="561.5" y1="46.18" x2="563.5" y2="46.18" stroke="#1c1616" stroke-width="1.1" /><line x1="561.5" y1="39.82" x2="563.5" y2="39.82" stroke="#1c1616" stroke-width="1.1" /><line x1="561.5" y1="33.46" x2="563.5" y2="33.46" stroke="#1c1616" stroke-width="1.1" /><line x1="560.3" y1="27.1" x2="563.5" y2="27.1" stroke="#1c1616" stroke-width="1.1" /><line x1="563.45" y1="154.3" x2="563.45" y2="157.5" stroke="#1c1616" stroke-width="1.1" /><line x1="569.28" y1="154.3" x2="569.28" y2="156.3" stroke="#1c1616" stroke-width="1.1" /><line x1="575.11" y1="154.3" x2="575.11" y2="156.3" stroke="#1c1616" stroke-width="1.1" /><line x1="580.94" y1="154.3" x2="580.94" y2="156.3" stroke="#1c1616" stroke-width="1.1" /><line x1="586.77" y1="154.3" x2="586.77" y2="156.3" stroke="#1c1616" stroke-width="1.1" /><line x1="592.6" y1="154.3" x2="592.6" y2="157.5" stroke="#1c1616" stroke-width="1.1" /><line x1="598.43" y1="154.3" x2="598.43" y2="156.3" stroke="#1c1616" stroke-width="1.1" /><line x1="604.26" y1="154.3" x2="604.26" y2="156.3" stroke="#1c1616" stroke-width="1.1" /><line x1="610.09" y1="154.3" x2="610.09" y2="156.3" stroke="#1c1616" stroke-width="1.1" /><line x1="615.92" y1="154.3" x2="615.92" y2="156.3" stroke="#1c1616" stroke-width="1.1" /><line x1="621.75" y1="154.3" x2="621.75" y2="157.5" stroke="#1c1616" stroke-width="1.1" /><line x1="627.58" y1="154.3" x2="627.58" y2="156.3" stroke="#1c1616" stroke-width="1.1" /><line x1="633.41" y1="154.3" x2="633.41" y2="156.3" stroke="#1c1616" stroke-width="1.1" /><line x1="639.24" y1="154.3" x2="639.24" y2="156.3" stroke="#1c1616" stroke-width="1.1" /><line x1="645.07" y1="154.3" x2="645.07" y2="156.3" stroke="#1c1616" stroke-width="1.1" /><line x1="650.9" y1="154.3" x2="650.9" y2="157.5" stroke="#1c1616" stroke-width="1.1" /><line x1="656.73" y1="154.3" x2="656.73" y2="156.3" stroke="#1c1616" stroke-width="1.1" /><line x1="662.56" y1="154.3" x2="662.56" y2="156.3" stroke="#1c1616" stroke-width="1.1" /><line x1="668.39" y1="154.3" x2="668.39" y2="156.3" stroke="#1c1616" stroke-width="1.1" /><line x1="674.22" y1="154.3" x2="674.22" y2="156.3" stroke="#1c1616" stroke-width="1.1" /><line x1="680.05" y1="154.3" x2="680.05" y2="157.5" stroke="#1c1616" stroke-width="1.1" /><text x="558.7" y="31.4" font-size="10" font-weight="bold" fill="#1c1616" text-anchor="end" >20</text><text x="558.7" y="62.7" font-size="10" font-weight="bold" fill="#1c1616" text-anchor="end" >15</text><text x="558.7" y="94.6" font-size="10" font-weight="bold" fill="#1c1616" text-anchor="end" >10</text><text x="558.7" y="126.6" font-size="10" font-weight="bold" fill="#1c1616" text-anchor="end" >5</text><text x="558.7" y="158.6" font-size="10" font-weight="bold" fill="#1c1616" text-anchor="end" >0</text><text x="561.65" y="169.9" font-size="10" font-weight="bold" fill="#1c1616" text-anchor="middle" >−5</text><text x="592.6" y="169.9" font-size="10" font-weight="bold" fill="#1c1616" text-anchor="middle" >0</text><text x="621.75" y="169.9" font-size="10" font-weight="bold" fill="#1c1616" text-anchor="middle" >5</text><text x="650.9" y="169.9" font-size="10" font-weight="bold" fill="#1c1616" text-anchor="middle" >10</text><text x="680.05" y="169.9" font-size="10" font-weight="bold" fill="#1c1616" text-anchor="middle" >15</text><text transform="translate(542,92.3) rotate(-90)" x="0" y="0" font-size="11.5" font-weight="bold" fill="#4a2420" text-anchor="middle" dominant-baseline="central" textLength="44.6" lengthAdjust="spacingAndGlyphs"><tspan font-style="italic">q</tspan><tspan font-size="7" dy="2" font-style="italic">z</tspan><tspan dy="-2"> (nm</tspan><tspan font-size="7" dy="-4">-1</tspan><tspan dy="4">)</tspan></text><text x="601.4" y="182.6" font-size="11.5" font-weight="bold" fill="#3a2222" text-anchor="start" textLength="48.6" lengthAdjust="spacingAndGlyphs" ><tspan font-style="italic">q</tspan><tspan font-size="7" dy="2" font-style="italic">xy</tspan><tspan dy="-2"> (nm</tspan><tspan font-size="7" dy="-4">-1</tspan><tspan dy="4">)</tspan></text><text x="538.7" y="12" font-size="16" font-weight="bold" fill="#1c1616" text-anchor="start" textLength="9" lengthAdjust="spacingAndGlyphs" >d</text><text x="637.6" y="23.8" font-size="11.5" font-weight="bold" fill="#3a2222" text-anchor="start" textLength="40.5" lengthAdjust="spacingAndGlyphs" >Control</text><text x="616.8" y="63.4" font-size="10.4" font-weight="bold" fill="#ffffff" text-anchor="start" textLength="22.6" lengthAdjust="spacingAndGlyphs" >(111)</text><text x="608.2" y="85.6" font-size="10.4" font-weight="bold" fill="#ffffff" text-anchor="start" textLength="22.6" lengthAdjust="spacingAndGlyphs" >(110)</text><text x="594.6" y="108.4" font-size="10.4" font-weight="bold" fill="#ffffff" text-anchor="start" textLength="24" lengthAdjust="spacingAndGlyphs" >(100)</text><text x="2.8" y="195" font-size="16" font-weight="bold" fill="#1c1616" text-anchor="start" textLength="8" lengthAdjust="spacingAndGlyphs" >e</text><rect x="12.3" y="203" width="665.2" height="334.3" fill="none" stroke="#3d2b2b" stroke-width="1.4" /><line x1="232.2" y1="203.7" x2="232.2" y2="536.6" stroke="#3d2b2b" stroke-width="1.3" stroke-dasharray="3,2.4"/><line x1="455.8" y1="203.7" x2="455.8" y2="536.6" stroke="#3d2b2b" stroke-width="1.3" stroke-dasharray="3,2.4"/><polygon points="72.9,248.8 90.4,233 90.4,279.6 72.9,295.4" fill="url(#gpl100)" stroke="none" stroke-width="0" /><circle cx="24.5" cy="248.8" r="3.8" fill="#f3bcc4" stroke="none" stroke-width="0" /><circle cx="72.9" cy="248.8" r="3.8" fill="#f3bcc4" stroke="none" stroke-width="0" /><circle cx="24.5" cy="295.4" r="3.8" fill="#f3bcc4" stroke="none" stroke-width="0" /><circle cx="72.9" cy="295.4" r="3.8" fill="#f3bcc4" stroke="none" stroke-width="0" /><circle cx="42" cy="233" r="3.8" fill="#f3bcc4" stroke="none" stroke-width="0" /><circle cx="90.4" cy="233" r="3.8" fill="#f3bcc4" stroke="none" stroke-width="0" /><circle cx="42" cy="279.6" r="3.8" fill="#f3bcc4" stroke="none" stroke-width="0" /><circle cx="90.4" cy="279.6" r="3.8" fill="#f3bcc4" stroke="none" stroke-width="0" /><line x1="24.5" y1="248.8" x2="72.9" y2="248.8" stroke="#2f3f56" stroke-width="1.25" /><line x1="72.9" y1="248.8" x2="72.9" y2="295.4" stroke="#2f3f56" stroke-width="1.25" /><line x1="72.9" y1="295.4" x2="24.5" y2="295.4" stroke="#2f3f56" stroke-width="1.25" /><line x1="24.5" y1="295.4" x2="24.5" y2="248.8" stroke="#2f3f56" stroke-width="1.25" /><line x1="42" y1="233" x2="90.4" y2="233" stroke="#2f3f56" stroke-width="1.25" /><line x1="90.4" y1="233" x2="90.4" y2="279.6" stroke="#2f3f56" stroke-width="1.25" /><line x1="90.4" y1="279.6" x2="42" y2="279.6" stroke="#2f3f56" stroke-width="1.25" /><line x1="42" y1="279.6" x2="42" y2="233" stroke="#2f3f56" stroke-width="1.25" /><line x1="24.5" y1="248.8" x2="42" y2="233" stroke="#2f3f56" stroke-width="1.25" /><line x1="72.9" y1="248.8" x2="90.4" y2="233" stroke="#2f3f56" stroke-width="1.25" /><line x1="24.5" y1="295.4" x2="42" y2="279.6" stroke="#2f3f56" stroke-width="1.25" /><line x1="72.9" y1="295.4" x2="90.4" y2="279.6" stroke="#2f3f56" stroke-width="1.25" /><circle cx="57.45" cy="240.9" r="1.9" fill="#c8143c" stroke="none" stroke-width="0" /><circle cx="57.45" cy="287.5" r="1.9" fill="#c8143c" stroke="none" stroke-width="0" /><circle cx="33.25" cy="264.2" r="1.9" fill="#c8143c" stroke="none" stroke-width="0" /><circle cx="81.65" cy="264.2" r="1.9" fill="#c8143c" stroke="none" stroke-width="0" /><circle cx="48.7" cy="272.1" r="1.9" fill="#c8143c" stroke="none" stroke-width="0" /><circle cx="64.4" cy="259.2" r="1.9" fill="#c8143c" stroke="none" stroke-width="0" /><circle cx="57.45" cy="264.2" r="2.6" fill="#7f9ecc" stroke="none" stroke-width="0" /><polygon points="248.6,247.3 313.3,231 313.3,279.2 248.6,295.5" fill="url(#gpl110)" stroke="none" stroke-width="0" opacity="0.95"/><circle cx="248.6" cy="247.3" r="3.8" fill="#f3bcc4" stroke="none" stroke-width="0" /><circle cx="297" cy="247.3" r="3.8" fill="#f3bcc4" stroke="none" stroke-width="0" /><circle cx="248.6" cy="295.5" r="3.8" fill="#f3bcc4" stroke="none" stroke-width="0" /><circle cx="297" cy="295.5" r="3.8" fill="#f3bcc4" stroke="none" stroke-width="0" /><circle cx="264.9" cy="231" r="3.8" fill="#f3bcc4" stroke="none" stroke-width="0" /><circle cx="313.3" cy="231" r="3.8" fill="#f3bcc4" stroke="none" stroke-width="0" /><circle cx="264.9" cy="279.2" r="3.8" fill="#f3bcc4" stroke="none" stroke-width="0" /><circle cx="313.3" cy="279.2" r="3.8" fill="#f3bcc4" stroke="none" stroke-width="0" /><line x1="248.6" y1="247.3" x2="297" y2="247.3" stroke="#2f3f56" stroke-width="1.25" /><line x1="297" y1="247.3" x2="297" y2="295.5" stroke="#2f3f56" stroke-width="1.25" /><line x1="297" y1="295.5" x2="248.6" y2="295.5" stroke="#2f3f56" stroke-width="1.25" /><line x1="248.6" y1="295.5" x2="248.6" y2="247.3" stroke="#2f3f56" stroke-width="1.25" /><line x1="264.9" y1="231" x2="313.3" y2="231" stroke="#2f3f56" stroke-width="1.25" /><line x1="313.3" y1="231" x2="313.3" y2="279.2" stroke="#2f3f56" stroke-width="1.25" /><line x1="313.3" y1="279.2" x2="264.9" y2="279.2" stroke="#2f3f56" stroke-width="1.25" /><line x1="264.9" y1="279.2" x2="264.9" y2="231" stroke="#2f3f56" stroke-width="1.25" /><line x1="248.6" y1="247.3" x2="264.9" y2="231" stroke="#2f3f56" stroke-width="1.25" /><line x1="297" y1="247.3" x2="313.3" y2="231" stroke="#2f3f56" stroke-width="1.25" /><line x1="248.6" y1="295.5" x2="264.9" y2="279.2" stroke="#2f3f56" stroke-width="1.25" /><line x1="297" y1="295.5" x2="313.3" y2="279.2" stroke="#2f3f56" stroke-width="1.25" /><circle cx="280.95" cy="239.15" r="1.9" fill="#c8143c" stroke="none" stroke-width="0" /><circle cx="280.95" cy="287.35" r="1.9" fill="#c8143c" stroke="none" stroke-width="0" /><circle cx="256.75" cy="263.25" r="1.9" fill="#c8143c" stroke="none" stroke-width="0" /><circle cx="305.15" cy="263.25" r="1.9" fill="#c8143c" stroke="none" stroke-width="0" /><circle cx="272.8" cy="271.4" r="1.9" fill="#c8143c" stroke="none" stroke-width="0" /><circle cx="287.3" cy="258" r="1.9" fill="#c8143c" stroke="none" stroke-width="0" /><circle cx="280.95" cy="263.25" r="2.6" fill="#7f9ecc" stroke="none" stroke-width="0" /><polygon points="471.3,248 534.9,231.5 519,296.2" fill="url(#gpl111)" stroke="none" stroke-width="0" /><circle cx="471.3" cy="248" r="3.8" fill="#f3bcc4" stroke="none" stroke-width="0" /><circle cx="519" cy="248" r="3.8" fill="#f3bcc4" stroke="none" stroke-width="0" /><circle cx="471.3" cy="296.2" r="3.8" fill="#f3bcc4" stroke="none" stroke-width="0" /><circle cx="519" cy="296.2" r="3.8" fill="#f3bcc4" stroke="none" stroke-width="0" /><circle cx="487.2" cy="231.5" r="3.8" fill="#f3bcc4" stroke="none" stroke-width="0" /><circle cx="534.9" cy="231.5" r="3.8" fill="#f3bcc4" stroke="none" stroke-width="0" /><circle cx="487.2" cy="279.7" r="3.8" fill="#f3bcc4" stroke="none" stroke-width="0" /><circle cx="534.9" cy="279.7" r="3.8" fill="#f3bcc4" stroke="none" stroke-width="0" /><line x1="471.3" y1="248" x2="519" y2="248" stroke="#2f3f56" stroke-width="1.25" /><line x1="519" y1="248" x2="519" y2="296.2" stroke="#2f3f56" stroke-width="1.25" /><line x1="519" y1="296.2" x2="471.3" y2="296.2" stroke="#2f3f56" stroke-width="1.25" /><line x1="471.3" y1="296.2" x2="471.3" y2="248" stroke="#2f3f56" stroke-width="1.25" /><line x1="487.2" y1="231.5" x2="534.9" y2="231.5" stroke="#2f3f56" stroke-width="1.25" /><line x1="534.9" y1="231.5" x2="534.9" y2="279.7" stroke="#2f3f56" stroke-width="1.25" /><line x1="534.9" y1="279.7" x2="487.2" y2="279.7" stroke="#2f3f56" stroke-width="1.25" /><line x1="487.2" y1="279.7" x2="487.2" y2="231.5" stroke="#2f3f56" stroke-width="1.25" /><line x1="471.3" y1="248" x2="487.2" y2="231.5" stroke="#2f3f56" stroke-width="1.25" /><line x1="519" y1="248" x2="534.9" y2="231.5" stroke="#2f3f56" stroke-width="1.25" /><line x1="471.3" y1="296.2" x2="487.2" y2="279.7" stroke="#2f3f56" stroke-width="1.25" /><line x1="519" y1="296.2" x2="534.9" y2="279.7" stroke="#2f3f56" stroke-width="1.25" /><circle cx="503.1" cy="239.75" r="1.9" fill="#c8143c" stroke="none" stroke-width="0" /><circle cx="503.1" cy="287.95" r="1.9" fill="#c8143c" stroke="none" stroke-width="0" /><circle cx="479.25" cy="263.85" r="1.9" fill="#c8143c" stroke="none" stroke-width="0" /><circle cx="526.95" cy="263.85" r="1.9" fill="#c8143c" stroke="none" stroke-width="0" /><circle cx="495.15" cy="272.1" r="1.9" fill="#c8143c" stroke="none" stroke-width="0" /><circle cx="509.25" cy="258.5" r="1.9" fill="#c8143c" stroke="none" stroke-width="0" /><circle cx="503.1" cy="263.85" r="2.6" fill="#7f9ecc" stroke="none" stroke-width="0" /><line x1="93.4" y1="309.8" x2="93.4" y2="299.3" stroke="#3a2a2a" stroke-width="0.9" /><polyline points="91.6,301.3 93.4,298.8 95.2,301.3" fill="none" stroke="#3a2a2a" stroke-width="0.9" /><line x1="93.4" y1="309.8" x2="83.4" y2="314.3" stroke="#3a2a2a" stroke-width="0.9" /><polyline points="86.2,315 82.9,314.5 84.8,312" fill="none" stroke="#3a2a2a" stroke-width="0.9" /><line x1="93.4" y1="309.8" x2="103.4" y2="314.3" stroke="#3a2a2a" stroke-width="0.9" /><polyline points="100.6,315 103.9,314.5 102,312" fill="none" stroke="#3a2a2a" stroke-width="0.9" /><text x="93.4" y="297" font-size="10" font-weight="bold" fill="#3a2a2a" text-anchor="middle" >Z</text><text x="79.2" y="319" font-size="10" font-weight="bold" fill="#3a2a2a" text-anchor="middle" >Y</text><text x="108" y="319" font-size="10" font-weight="bold" fill="#3a2a2a" text-anchor="middle" >X</text><line x1="319.5" y1="310.1" x2="319.5" y2="299.6" stroke="#3a2a2a" stroke-width="0.9" /><polyline points="317.7,301.6 319.5,299.1 321.3,301.6" fill="none" stroke="#3a2a2a" stroke-width="0.9" /><line x1="319.5" y1="310.1" x2="309.5" y2="314.6" stroke="#3a2a2a" stroke-width="0.9" /><polyline points="312.3,315.3 309,314.8 310.9,312.3" fill="none" stroke="#3a2a2a" stroke-width="0.9" /><line x1="319.5" y1="310.1" x2="329.5" y2="314.6" stroke="#3a2a2a" stroke-width="0.9" /><polyline points="326.7,315.3 330,314.8 328.1,312.3" fill="none" stroke="#3a2a2a" stroke-width="0.9" /><text x="319.5" y="297.3" font-size="10" font-weight="bold" fill="#3a2a2a" text-anchor="middle" >Z</text><text x="305.3" y="319.3" font-size="10" font-weight="bold" fill="#3a2a2a" text-anchor="middle" >Y</text><text x="334.1" y="319.3" font-size="10" font-weight="bold" fill="#3a2a2a" text-anchor="middle" >X</text><line x1="537.6" y1="310.1" x2="537.6" y2="299.6" stroke="#3a2a2a" stroke-width="0.9" /><polyline points="535.8,301.6 537.6,299.1 539.4,301.6" fill="none" stroke="#3a2a2a" stroke-width="0.9" /><line x1="537.6" y1="310.1" x2="527.6" y2="314.6" stroke="#3a2a2a" stroke-width="0.9" /><polyline points="530.4,315.3 527.1,314.8 529,312.3" fill="none" stroke="#3a2a2a" stroke-width="0.9" /><line x1="537.6" y1="310.1" x2="547.6" y2="314.6" stroke="#3a2a2a" stroke-width="0.9" /><polyline points="544.8,315.3 548.1,314.8 546.2,312.3" fill="none" stroke="#3a2a2a" stroke-width="0.9" /><text x="537.6" y="297.3" font-size="10" font-weight="bold" fill="#3a2a2a" text-anchor="middle" >Z</text><text x="523.4" y="319.3" font-size="10" font-weight="bold" fill="#3a2a2a" text-anchor="middle" >Y</text><text x="552.2" y="319.3" font-size="10" font-weight="bold" fill="#3a2a2a" text-anchor="middle" >X</text><text x="87" y="218.4" font-size="10.5" font-weight="bold" fill="#c21b4b" text-anchor="start" textLength="25.6" lengthAdjust="spacingAndGlyphs" >(100)</text><text x="311.9" y="218.6" font-size="10.5" font-weight="bold" fill="#1c1616" text-anchor="start" textLength="26.2" lengthAdjust="spacingAndGlyphs" >(110)</text><text x="532.9" y="218.6" font-size="10.5" font-weight="bold" fill="#1c1616" text-anchor="start" textLength="24.9" lengthAdjust="spacingAndGlyphs" >(111)</text><rect x="157.2" y="271.8" width="15.9" height="34.4" fill="url(#gb100)" stroke="none" stroke-width="1" /><rect x="192.3" y="229.6" width="15.5" height="76.6" fill="url(#gb100)" stroke="none" stroke-width="1" /><rect x="143.1" y="218.4" width="76.7" height="87.8" fill="none" stroke="#1f1f1f" stroke-width="1.4" /><line x1="140.1" y1="218.4" x2="143.1" y2="218.4" stroke="#1f1f1f" stroke-width="1.2" /><line x1="140.1" y1="240.7" x2="143.1" y2="240.7" stroke="#1f1f1f" stroke-width="1.2" /><line x1="140.1" y1="263" x2="143.1" y2="263" stroke="#1f1f1f" stroke-width="1.2" /><line x1="140.1" y1="284.6" x2="143.1" y2="284.6" stroke="#1f1f1f" stroke-width="1.2" /><line x1="140.1" y1="306.2" x2="143.1" y2="306.2" stroke="#1f1f1f" stroke-width="1.2" /><line x1="165.15" y1="306.2" x2="165.15" y2="309.2" stroke="#1f1f1f" stroke-width="1.2" /><line x1="200.05" y1="306.2" x2="200.05" y2="309.2" stroke="#1f1f1f" stroke-width="1.2" /><text x="140" y="222.4" font-size="10" font-weight="bold" fill="#1c1616" text-anchor="end" textLength="14.1" lengthAdjust="spacingAndGlyphs" >6.3</text><text x="140" y="244.8" font-size="10" font-weight="bold" fill="#1c1616" text-anchor="end" textLength="14.1" lengthAdjust="spacingAndGlyphs" >6.2</text><text x="140" y="267.2" font-size="10" font-weight="bold" fill="#1c1616" text-anchor="end" textLength="14.1" lengthAdjust="spacingAndGlyphs" >6.1</text><text x="140" y="289.2" font-size="10" font-weight="bold" fill="#1c1616" text-anchor="end" textLength="14.1" lengthAdjust="spacingAndGlyphs" >6.0</text><text x="140" y="310.6" font-size="10" font-weight="bold" fill="#1c1616" text-anchor="end" textLength="14.1" lengthAdjust="spacingAndGlyphs" >5.9</text><text x="153.8" y="269.8" font-size="10.5" font-weight="bold" fill="#1c1616" text-anchor="start" textLength="21" lengthAdjust="spacingAndGlyphs" >6.06</text><text x="189.2" y="228.4" font-size="10.5" font-weight="bold" fill="#1c1616" text-anchor="start" textLength="20.5" lengthAdjust="spacingAndGlyphs" >6.25</text><text transform="translate(117.6,261.5) rotate(-90)" x="0" y="0" font-size="10.5" font-weight="bold" fill="#3a2222" text-anchor="middle" dominant-baseline="central" textLength="25.2" lengthAdjust="spacingAndGlyphs"><tspan font-style="italic">d</tspan> (Å)</text><text x="156.7" y="321.4" font-size="10.5" font-weight="bold" fill="#1c1616" text-anchor="start" textLength="12.5" lengthAdjust="spacingAndGlyphs" >Br</text><text x="184.4" y="321.4" font-size="10.5" font-weight="bold" fill="#1c1616">Br<tspan font-size="7" dy="3">0.2</tspan><tspan dy="-3">I</tspan><tspan font-size="7" dy="3">0.8</tspan></text><rect x="378" y="275.6" width="15.7" height="24.5" fill="url(#gb110)" stroke="none" stroke-width="1" /><rect x="415.5" y="263.7" width="16.2" height="36.4" fill="url(#gb110)" stroke="none" stroke-width="1" /><rect x="366.2" y="218.9" width="78" height="81.2" fill="none" stroke="#1f1f1f" stroke-width="1.4" /><line x1="363.2" y1="218.9" x2="366.2" y2="218.9" stroke="#1f1f1f" stroke-width="1.2" /><line x1="363.2" y1="259.6" x2="366.2" y2="259.6" stroke="#1f1f1f" stroke-width="1.2" /><line x1="363.2" y1="300.1" x2="366.2" y2="300.1" stroke="#1f1f1f" stroke-width="1.2" /><line x1="364.2" y1="239.3" x2="366.2" y2="239.3" stroke="#1f1f1f" stroke-width="1" /><line x1="364.2" y1="279.9" x2="366.2" y2="279.9" stroke="#1f1f1f" stroke-width="1" /><line x1="385.85" y1="300.1" x2="385.85" y2="303.1" stroke="#1f1f1f" stroke-width="1.2" /><line x1="423.6" y1="300.1" x2="423.6" y2="303.1" stroke="#1f1f1f" stroke-width="1.2" /><text x="363.1" y="222.7" font-size="10" font-weight="bold" fill="#1c1616" text-anchor="end" textLength="13.6" lengthAdjust="spacingAndGlyphs" >6.1</text><text x="363.1" y="263.4" font-size="10" font-weight="bold" fill="#1c1616" text-anchor="end" textLength="13.6" lengthAdjust="spacingAndGlyphs" >6.0</text><text x="363.1" y="303.9" font-size="10" font-weight="bold" fill="#1c1616" text-anchor="end" textLength="13.6" lengthAdjust="spacingAndGlyphs" >5.9</text><text x="375.6" y="269" font-size="10.5" font-weight="bold" fill="#1c1616" text-anchor="start" textLength="20.3" lengthAdjust="spacingAndGlyphs" >5.96</text><text x="413.5" y="256.5" font-size="10.5" font-weight="bold" fill="#1c1616" text-anchor="start" textLength="20.1" lengthAdjust="spacingAndGlyphs" >5.99</text><text transform="translate(340,260.2) rotate(-90)" x="0" y="0" font-size="10.5" font-weight="bold" fill="#3a2222" text-anchor="middle" dominant-baseline="central" textLength="26" lengthAdjust="spacingAndGlyphs"><tspan font-style="italic">d</tspan> (Å)</text><text x="379.2" y="321.5" font-size="10.5" font-weight="bold" fill="#1c1616" text-anchor="start" textLength="12" lengthAdjust="spacingAndGlyphs" >Br</text><text x="413.5" y="321.5" font-size="10.5" font-weight="bold" fill="#1c1616">Br<tspan font-size="7" dy="3">0.2</tspan><tspan dy="-3">I</tspan><tspan font-size="7" dy="3">0.8</tspan></text><rect x="597.3" y="285.2" width="15.7" height="15.8" fill="url(#gb111)" stroke="none" stroke-width="1" /><rect x="635.5" y="276.8" width="16.2" height="24.2" fill="url(#gb111)" stroke="none" stroke-width="1" /><rect x="586.2" y="219.3" width="76.3" height="81.7" fill="none" stroke="#1f1f1f" stroke-width="1.4" /><line x1="583.2" y1="219.3" x2="586.2" y2="219.3" stroke="#1f1f1f" stroke-width="1.2" /><line x1="583.2" y1="260.2" x2="586.2" y2="260.2" stroke="#1f1f1f" stroke-width="1.2" /><line x1="583.2" y1="301" x2="586.2" y2="301" stroke="#1f1f1f" stroke-width="1.2" /><line x1="584.2" y1="239.7" x2="586.2" y2="239.7" stroke="#1f1f1f" stroke-width="1" /><line x1="584.2" y1="280.6" x2="586.2" y2="280.6" stroke="#1f1f1f" stroke-width="1" /><line x1="605.15" y1="301" x2="605.15" y2="304" stroke="#1f1f1f" stroke-width="1.2" /><line x1="643.6" y1="301" x2="643.6" y2="304" stroke="#1f1f1f" stroke-width="1.2" /><text x="583.1" y="223.1" font-size="10" font-weight="bold" fill="#1c1616" text-anchor="end" textLength="13.6" lengthAdjust="spacingAndGlyphs" >6.1</text><text x="583.1" y="264" font-size="10" font-weight="bold" fill="#1c1616" text-anchor="end" textLength="13.6" lengthAdjust="spacingAndGlyphs" >6.0</text><text x="583.1" y="304.8" font-size="10" font-weight="bold" fill="#1c1616" text-anchor="end" textLength="13.6" lengthAdjust="spacingAndGlyphs" >5.9</text><text x="594.9" y="277.5" font-size="10.5" font-weight="bold" fill="#1c1616" text-anchor="start" textLength="20" lengthAdjust="spacingAndGlyphs" >5.94</text><text x="633" y="271.5" font-size="10.5" font-weight="bold" fill="#1c1616" text-anchor="start" textLength="20.6" lengthAdjust="spacingAndGlyphs" >5.96</text><text transform="translate(558.5,262) rotate(-90)" x="0" y="0" font-size="10.5" font-weight="bold" fill="#3a2222" text-anchor="middle" dominant-baseline="central" textLength="24.1" lengthAdjust="spacingAndGlyphs"><tspan font-style="italic">d</tspan> (Å)</text><text x="599.5" y="321.8" font-size="10.5" font-weight="bold" fill="#1c1616" text-anchor="start" textLength="12" lengthAdjust="spacingAndGlyphs" >Br</text><text x="631.5" y="321.8" font-size="10.5" font-weight="bold" fill="#1c1616">Br<tspan font-size="7" dy="3">0.2</tspan><tspan dy="-3">I</tspan><tspan font-size="7" dy="3">0.8</tspan></text><rect x="28.5" y="337.5" width="63" height="63.8" fill="none" stroke="#dccbc0" stroke-width="2.2" filter="url(#shadow)" opacity="0.7"/><rect x="28.3" y="337.3" width="61.7" height="62.5" fill="#ffffff" stroke="#f3e6dd" stroke-width="2.6" /><circle cx="42.5" cy="352.3" r="3.6" fill="#f0b3bd" stroke="none" stroke-width="0" /><circle cx="42.5" cy="363.3" r="3.6" fill="#f0b3bd" stroke="none" stroke-width="0" /><circle cx="42.5" cy="374.3" r="3.6" fill="#f0b3bd" stroke="none" stroke-width="0" /><circle cx="42.5" cy="385.3" r="3.6" fill="#f0b3bd" stroke="none" stroke-width="0" /><circle cx="53.5" cy="352.3" r="3.6" fill="#f0b3bd" stroke="none" stroke-width="0" /><circle cx="53.5" cy="363.3" r="3.6" fill="#f0b3bd" stroke="none" stroke-width="0" /><circle cx="53.5" cy="374.3" r="3.6" fill="#f0b3bd" stroke="none" stroke-width="0" /><circle cx="53.5" cy="385.3" r="3.6" fill="#f0b3bd" stroke="none" stroke-width="0" /><circle cx="64.5" cy="352.3" r="3.6" fill="#f0b3bd" stroke="none" stroke-width="0" /><circle cx="64.5" cy="363.3" r="3.6" fill="#f0b3bd" stroke="none" stroke-width="0" /><circle cx="64.5" cy="374.3" r="3.6" fill="#f0b3bd" stroke="none" stroke-width="0" /><circle cx="64.5" cy="385.3" r="3.6" fill="#f0b3bd" stroke="none" stroke-width="0" /><circle cx="75.5" cy="352.3" r="3.6" fill="#f0b3bd" stroke="none" stroke-width="0" /><circle cx="75.5" cy="363.3" r="3.6" fill="#f0b3bd" stroke="none" stroke-width="0" /><circle cx="75.5" cy="374.3" r="3.6" fill="#f0b3bd" stroke="none" stroke-width="0" /><circle cx="75.5" cy="385.3" r="3.6" fill="#f0b3bd" stroke="none" stroke-width="0" /><circle cx="48" cy="357.8" r="2" fill="#c8143c" stroke="none" stroke-width="0" /><circle cx="48" cy="368.8" r="2" fill="#c8143c" stroke="none" stroke-width="0" /><circle cx="48" cy="379.8" r="2" fill="#c8143c" stroke="none" stroke-width="0" /><circle cx="59" cy="357.8" r="2" fill="#c8143c" stroke="none" stroke-width="0" /><circle cx="59" cy="368.8" r="2" fill="#c8143c" stroke="none" stroke-width="0" /><circle cx="59" cy="379.8" r="2" fill="#c8143c" stroke="none" stroke-width="0" /><circle cx="70" cy="357.8" r="2" fill="#c8143c" stroke="none" stroke-width="0" /><circle cx="70" cy="368.8" r="2" fill="#c8143c" stroke="none" stroke-width="0" /><circle cx="70" cy="379.8" r="2" fill="#c8143c" stroke="none" stroke-width="0" /><rect x="42.2" y="352.3" width="11.2" height="11" fill="none" stroke="#1a1a1a" stroke-width="1.1" /><rect x="157.1" y="338.6" width="63" height="63.8" fill="none" stroke="#dccbc0" stroke-width="2.2" filter="url(#shadow)" opacity="0.7"/><rect x="156.9" y="338.4" width="61.7" height="62.5" fill="#ffffff" stroke="#f3e6dd" stroke-width="2.6" /><circle cx="171.1" cy="353.4" r="3.6" fill="#f0b3bd" stroke="none" stroke-width="0" /><circle cx="171.1" cy="364.4" r="3.6" fill="#f0b3bd" stroke="none" stroke-width="0" /><circle cx="171.1" cy="375.4" r="3.6" fill="#f0b3bd" stroke="none" stroke-width="0" /><circle cx="171.1" cy="386.4" r="3.6" fill="#f0b3bd" stroke="none" stroke-width="0" /><circle cx="182.1" cy="353.4" r="3.6" fill="#f0b3bd" stroke="none" stroke-width="0" /><circle cx="182.1" cy="364.4" r="3.6" fill="#f0b3bd" stroke="none" stroke-width="0" /><circle cx="182.1" cy="375.4" r="3.6" fill="#f0b3bd" stroke="none" stroke-width="0" /><circle cx="182.1" cy="386.4" r="3.6" fill="#f0b3bd" stroke="none" stroke-width="0" /><circle cx="193.1" cy="353.4" r="3.6" fill="#f0b3bd" stroke="none" stroke-width="0" /><circle cx="193.1" cy="364.4" r="3.6" fill="#f0b3bd" stroke="none" stroke-width="0" /><circle cx="193.1" cy="375.4" r="3.6" fill="#f0b3bd" stroke="none" stroke-width="0" /><circle cx="193.1" cy="386.4" r="3.6" fill="#f0b3bd" stroke="none" stroke-width="0" /><circle cx="204.1" cy="353.4" r="3.6" fill="#f0b3bd" stroke="none" stroke-width="0" /><circle cx="204.1" cy="364.4" r="3.6" fill="#f0b3bd" stroke="none" stroke-width="0" /><circle cx="204.1" cy="375.4" r="3.6" fill="#f0b3bd" stroke="none" stroke-width="0" /><circle cx="204.1" cy="386.4" r="3.6" fill="#f0b3bd" stroke="none" stroke-width="0" /><circle cx="176.6" cy="358.9" r="2" fill="#1c2d8c" stroke="none" stroke-width="0" /><circle cx="176.6" cy="369.9" r="2" fill="#c8143c" stroke="none" stroke-width="0" /><circle cx="176.6" cy="380.9" r="2" fill="#1c2d8c" stroke="none" stroke-width="0" /><circle cx="187.6" cy="358.9" r="2" fill="#1c2d8c" stroke="none" stroke-width="0" /><circle cx="187.6" cy="369.9" r="2" fill="#c8143c" stroke="none" stroke-width="0" /><circle cx="187.6" cy="380.9" r="2" fill="#1c2d8c" stroke="none" stroke-width="0" /><circle cx="198.6" cy="358.9" r="2" fill="#1c2d8c" stroke="none" stroke-width="0" /><circle cx="198.6" cy="369.9" r="2" fill="#c8143c" stroke="none" stroke-width="0" /><circle cx="198.6" cy="380.9" r="2" fill="#1c2d8c" stroke="none" stroke-width="0" /><rect x="170.8" y="353.4" width="11.2" height="11" fill="none" stroke="#1a1a1a" stroke-width="1.1" /><text x="98" y="364.8" font-size="11.5" font-weight="bold" fill="#c21b4b" text-anchor="start" textLength="46.3" lengthAdjust="spacingAndGlyphs" >AX (100)</text><rect x="249.6" y="338.1" width="62.5" height="63" fill="none" stroke="#dccbc0" stroke-width="2.2" filter="url(#shadow)" opacity="0.7"/><rect x="249.4" y="337.9" width="61.2" height="61.7" fill="#ffffff" stroke="#f3e6dd" stroke-width="2.6" /><circle cx="263" cy="350.9" r="4.1" fill="#f0b3bd" stroke="none" stroke-width="0" /><circle cx="263" cy="363.1" r="4.1" fill="#f0b3bd" stroke="none" stroke-width="0" /><circle cx="263" cy="375.3" r="4.1" fill="#f0b3bd" stroke="none" stroke-width="0" /><circle cx="263" cy="387.5" r="4.1" fill="#f0b3bd" stroke="none" stroke-width="0" /><circle cx="280.1" cy="350.9" r="4.1" fill="#f0b3bd" stroke="none" stroke-width="0" /><circle cx="280.1" cy="363.1" r="4.1" fill="#f0b3bd" stroke="none" stroke-width="0" /><circle cx="280.1" cy="375.3" r="4.1" fill="#f0b3bd" stroke="none" stroke-width="0" /><circle cx="280.1" cy="387.5" r="4.1" fill="#f0b3bd" stroke="none" stroke-width="0" /><circle cx="297" cy="350.9" r="4.1" fill="#f0b3bd" stroke="none" stroke-width="0" /><circle cx="297" cy="363.1" r="4.1" fill="#f0b3bd" stroke="none" stroke-width="0" /><circle cx="297" cy="375.3" r="4.1" fill="#f0b3bd" stroke="none" stroke-width="0" /><circle cx="297" cy="387.5" r="4.1" fill="#f0b3bd" stroke="none" stroke-width="0" /><circle cx="271.3" cy="350.9" r="2.2" fill="#c8143c" stroke="none" stroke-width="0" /><circle cx="271.3" cy="357" r="2.4" fill="#8aa2cf" stroke="none" stroke-width="0" /><circle cx="271.3" cy="363.1" r="2.2" fill="#c8143c" stroke="none" stroke-width="0" /><circle cx="271.3" cy="369.2" r="2.4" fill="#8aa2cf" stroke="none" stroke-width="0" /><circle cx="271.3" cy="375.3" r="2.2" fill="#c8143c" stroke="none" stroke-width="0" /><circle cx="271.3" cy="381.4" r="2.4" fill="#8aa2cf" stroke="none" stroke-width="0" /><circle cx="271.3" cy="387.5" r="2.2" fill="#c8143c" stroke="none" stroke-width="0" /><circle cx="289" cy="350.9" r="2.2" fill="#c8143c" stroke="none" stroke-width="0" /><circle cx="289" cy="357" r="2.4" fill="#8aa2cf" stroke="none" stroke-width="0" /><circle cx="289" cy="363.1" r="2.2" fill="#c8143c" stroke="none" stroke-width="0" /><circle cx="289" cy="369.2" r="2.4" fill="#8aa2cf" stroke="none" stroke-width="0" /><circle cx="289" cy="375.3" r="2.2" fill="#c8143c" stroke="none" stroke-width="0" /><circle cx="289" cy="381.4" r="2.4" fill="#8aa2cf" stroke="none" stroke-width="0" /><circle cx="289" cy="387.5" r="2.2" fill="#c8143c" stroke="none" stroke-width="0" /><rect x="262.4" y="350.9" width="18.2" height="12.6" fill="none" stroke="#1a1a1a" stroke-width="1.1" /><rect x="384.3" y="340.8" width="62.5" height="63" fill="none" stroke="#dccbc0" stroke-width="2.2" filter="url(#shadow)" opacity="0.7"/><rect x="384.1" y="340.6" width="61.2" height="61.7" fill="#ffffff" stroke="#f3e6dd" stroke-width="2.6" /><circle cx="397.7" cy="353.6" r="4.1" fill="#f0b3bd" stroke="none" stroke-width="0" /><circle cx="397.7" cy="365.8" r="4.1" fill="#f0b3bd" stroke="none" stroke-width="0" /><circle cx="397.7" cy="378" r="4.1" fill="#f0b3bd" stroke="none" stroke-width="0" /><circle cx="397.7" cy="390.2" r="4.1" fill="#f0b3bd" stroke="none" stroke-width="0" /><circle cx="414.8" cy="353.6" r="4.1" fill="#f0b3bd" stroke="none" stroke-width="0" /><circle cx="414.8" cy="365.8" r="4.1" fill="#f0b3bd" stroke="none" stroke-width="0" /><circle cx="414.8" cy="378" r="4.1" fill="#f0b3bd" stroke="none" stroke-width="0" /><circle cx="414.8" cy="390.2" r="4.1" fill="#f0b3bd" stroke="none" stroke-width="0" /><circle cx="431.7" cy="353.6" r="4.1" fill="#f0b3bd" stroke="none" stroke-width="0" /><circle cx="431.7" cy="365.8" r="4.1" fill="#f0b3bd" stroke="none" stroke-width="0" /><circle cx="431.7" cy="378" r="4.1" fill="#f0b3bd" stroke="none" stroke-width="0" /><circle cx="431.7" cy="390.2" r="4.1" fill="#f0b3bd" stroke="none" stroke-width="0" /><circle cx="406" cy="353.6" r="2.2" fill="#c8143c" stroke="none" stroke-width="0" /><circle cx="406" cy="359.7" r="2.4" fill="#8aa2cf" stroke="none" stroke-width="0" /><circle cx="406" cy="365.8" r="2.2" fill="#1c2d8c" stroke="none" stroke-width="0" /><circle cx="406" cy="371.9" r="2.4" fill="#8aa2cf" stroke="none" stroke-width="0" /><circle cx="406" cy="378" r="2.2" fill="#c8143c" stroke="none" stroke-width="0" /><circle cx="406" cy="384.1" r="2.4" fill="#8aa2cf" stroke="none" stroke-width="0" /><circle cx="406" cy="390.2" r="2.2" fill="#1c2d8c" stroke="none" stroke-width="0" /><circle cx="423.7" cy="353.6" r="2.2" fill="#c8143c" stroke="none" stroke-width="0" /><circle cx="423.7" cy="359.7" r="2.4" fill="#8aa2cf" stroke="none" stroke-width="0" /><circle cx="423.7" cy="365.8" r="2.2" fill="#1c2d8c" stroke="none" stroke-width="0" /><circle cx="423.7" cy="371.9" r="2.4" fill="#8aa2cf" stroke="none" stroke-width="0" /><circle cx="423.7" cy="378" r="2.2" fill="#c8143c" stroke="none" stroke-width="0" /><circle cx="423.7" cy="384.1" r="2.4" fill="#8aa2cf" stroke="none" stroke-width="0" /><circle cx="423.7" cy="390.2" r="2.2" fill="#1c2d8c" stroke="none" stroke-width="0" /><rect x="397.1" y="353.6" width="18.2" height="12.6" fill="none" stroke="#1a1a1a" stroke-width="1.1" /><text x="317.7" y="364.6" font-size="11" font-weight="bold" fill="#1c1616" text-anchor="start" textLength="53.6" lengthAdjust="spacingAndGlyphs" >ABX (110)</text><rect x="476.1" y="339.2" width="62" height="61.3" fill="none" stroke="#dccbc0" stroke-width="2.2" filter="url(#shadow)" opacity="0.7"/><rect x="475.9" y="339" width="60.7" height="60" fill="#ffffff" stroke="#f3e6dd" stroke-width="2.6" /><circle cx="498.5" cy="351.9" r="4.5" fill="#f0b3bd" stroke="none" stroke-width="0" /><circle cx="516.2" cy="351.9" r="4.5" fill="#f0b3bd" stroke="none" stroke-width="0" /><circle cx="488.8" cy="369.6" r="4.5" fill="#f0b3bd" stroke="none" stroke-width="0" /><circle cx="507.9" cy="369.6" r="4.5" fill="#f0b3bd" stroke="none" stroke-width="0" /><circle cx="524.7" cy="369.6" r="4.5" fill="#f0b3bd" stroke="none" stroke-width="0" /><circle cx="497.4" cy="388.2" r="4.5" fill="#f0b3bd" stroke="none" stroke-width="0" /><circle cx="518.2" cy="388.2" r="4.5" fill="#f0b3bd" stroke="none" stroke-width="0" /><circle cx="507" cy="351.9" r="2.6" fill="#c8143c" stroke="none" stroke-width="0" /><circle cx="498.5" cy="369.6" r="2.6" fill="#c8143c" stroke="none" stroke-width="0" /><circle cx="515.7" cy="369.6" r="2.6" fill="#c8143c" stroke="none" stroke-width="0" /><circle cx="507.4" cy="388.2" r="2.6" fill="#c8143c" stroke="none" stroke-width="0" /><circle cx="492.9" cy="360.9" r="2.6" fill="#c8143c" stroke="none" stroke-width="0" /><circle cx="502.4" cy="360.9" r="2.6" fill="#c8143c" stroke="none" stroke-width="0" /><circle cx="512.4" cy="360.9" r="2.6" fill="#c8143c" stroke="none" stroke-width="0" /><circle cx="521" cy="360.9" r="2.6" fill="#c8143c" stroke="none" stroke-width="0" /><circle cx="492.9" cy="379.4" r="2.6" fill="#c8143c" stroke="none" stroke-width="0" /><circle cx="501.8" cy="379.4" r="2.6" fill="#c8143c" stroke="none" stroke-width="0" /><circle cx="510.5" cy="379.4" r="2.6" fill="#c8143c" stroke="none" stroke-width="0" /><circle cx="521.3" cy="379.4" r="2.6" fill="#c8143c" stroke="none" stroke-width="0" /><rect x="603" y="339.7" width="62" height="61.3" fill="none" stroke="#dccbc0" stroke-width="2.2" filter="url(#shadow)" opacity="0.7"/><rect x="602.8" y="339.5" width="60.7" height="60" fill="#ffffff" stroke="#f3e6dd" stroke-width="2.6" /><circle cx="623.9" cy="352.2" r="4.5" fill="#f0b3bd" stroke="none" stroke-width="0" /><circle cx="641.6" cy="352.2" r="4.5" fill="#f0b3bd" stroke="none" stroke-width="0" /><circle cx="614.2" cy="369.9" r="4.5" fill="#f0b3bd" stroke="none" stroke-width="0" /><circle cx="633.3" cy="369.9" r="4.5" fill="#f0b3bd" stroke="none" stroke-width="0" /><circle cx="650.1" cy="369.9" r="4.5" fill="#f0b3bd" stroke="none" stroke-width="0" /><circle cx="622.8" cy="388.5" r="4.5" fill="#f0b3bd" stroke="none" stroke-width="0" /><circle cx="643.6" cy="388.5" r="4.5" fill="#f0b3bd" stroke="none" stroke-width="0" /><circle cx="632.4" cy="352.2" r="2.6" fill="#c8143c" stroke="none" stroke-width="0" /><circle cx="623.9" cy="369.9" r="2.6" fill="#c8143c" stroke="none" stroke-width="0" /><circle cx="641.1" cy="369.9" r="2.6" fill="#c8143c" stroke="none" stroke-width="0" /><circle cx="632.8" cy="388.5" r="2.6" fill="#c8143c" stroke="none" stroke-width="0" /><circle cx="618.3" cy="361.2" r="2.6" fill="#1c2d8c" stroke="none" stroke-width="0" /><circle cx="627.8" cy="361.2" r="2.6" fill="#1c2d8c" stroke="none" stroke-width="0" /><circle cx="637.8" cy="361.2" r="2.6" fill="#1c2d8c" stroke="none" stroke-width="0" /><circle cx="646.4" cy="361.2" r="2.6" fill="#1c2d8c" stroke="none" stroke-width="0" /><circle cx="618.3" cy="379.7" r="2.6" fill="#1c2d8c" stroke="none" stroke-width="0" /><circle cx="627.2" cy="379.7" r="2.6" fill="#1c2d8c" stroke="none" stroke-width="0" /><circle cx="635.9" cy="379.7" r="2.6" fill="#1c2d8c" stroke="none" stroke-width="0" /><circle cx="646.7" cy="379.7" r="2.6" fill="#1c2d8c" stroke="none" stroke-width="0" /><polygon points="482.3,364.4 501.8,364.4 506.1,383.5 485.6,383.5" fill="none" stroke="#1a1a1a" stroke-width="1.1" /><polygon points="608.4,364.2 627.4,364.2 632.1,382.6 612,382.6" fill="none" stroke="#1a1a1a" stroke-width="1.1" /><text x="544.3" y="364.8" font-size="11" font-weight="bold" fill="#231815" textLength="48.6" lengthAdjust="spacingAndGlyphs">AX<tspan font-size="7">3</tspan> (111)</text><text x="53.5" y="423.2" font-size="11.5" font-weight="bold" fill="#c21b4b" text-anchor="start" textLength="12.4" lengthAdjust="spacingAndGlyphs" >Br</text><text x="91.1" y="413.6" font-size="11" font-weight="bold" fill="#1c1616" text-anchor="start" textLength="55.6" lengthAdjust="spacingAndGlyphs" >I Insertion</text><polygon points="89.5,418.4 142.9,418.4 142.9,416.2 152.4,420.2 142.9,424.2 142.9,422 89.5,422" fill="url(#gar89)" stroke="none" stroke-width="0" /><text x="169.8" y="422.3" font-size="11.5" font-weight="bold" fill="#c21b4b" textLength="34.8" lengthAdjust="spacingAndGlyphs">Br<tspan font-size="7.5" dy="3">0.2</tspan><tspan dy="-3" fill="#2a3a9a">I</tspan><tspan font-size="7.5" dy="3" fill="#2a3a9a">0.8</tspan></text><text x="276.2" y="423.2" font-size="11.5" font-weight="bold" fill="#c21b4b" text-anchor="start" textLength="12.4" lengthAdjust="spacingAndGlyphs" >Br</text><text x="315.5" y="413.6" font-size="11" font-weight="bold" fill="#1c1616" text-anchor="start" textLength="55.6" lengthAdjust="spacingAndGlyphs" >I Insertion</text><polygon points="309.5,418.4 364.5,418.4 364.5,416.2 374,420.2 364.5,424.2 364.5,422 309.5,422" fill="url(#gar309)" stroke="none" stroke-width="0" /><text x="392.8" y="422.3" font-size="11.5" font-weight="bold" fill="#c21b4b" textLength="34.8" lengthAdjust="spacingAndGlyphs">Br<tspan font-size="7.5" dy="3">0.2</tspan><tspan dy="-3" fill="#2a3a9a">I</tspan><tspan font-size="7.5" dy="3" fill="#2a3a9a">0.8</tspan></text><text x="498.5" y="423.2" font-size="11.5" font-weight="bold" fill="#c21b4b" text-anchor="start" textLength="12.4" lengthAdjust="spacingAndGlyphs" >Br</text><text x="539.5" y="413.6" font-size="11" font-weight="bold" fill="#1c1616" text-anchor="start" textLength="55.6" lengthAdjust="spacingAndGlyphs" >I Insertion</text><polygon points="533,418.4 587.5,418.4 587.5,416.2 597,420.2 587.5,424.2 587.5,422 533,422" fill="url(#gar533)" stroke="none" stroke-width="0" /><text x="617.3" y="422.3" font-size="11.5" font-weight="bold" fill="#c21b4b" textLength="34.8" lengthAdjust="spacingAndGlyphs">Br<tspan font-size="7.5" dy="3">0.2</tspan><tspan dy="-3" fill="#2a3a9a">I</tspan><tspan font-size="7.5" dy="3" fill="#2a3a9a">0.8</tspan></text><line x1="16.5" y1="436.5" x2="107.5" y2="436.5" stroke="#b8b8b8" stroke-width="0.8" /><g clip-path="url(#cs1)"><polygon points="34.1,441.5 51,455.6 51,464.1 34.1,480.2 17.2,464.1 17.2,455.6" fill="#c26e7e" stroke="none" stroke-width="0" /><polygon points="34.1,441.5 51,455.6 34.1,450.1 17.2,455.6" fill="#c47484" stroke="none" stroke-width="0" /><polygon points="17.2,464.1 34.1,450.1 51,464.1 34.1,468.7" fill="#ca7b8b" stroke="none" stroke-width="0" /><polygon points="17.2,464.1 51,464.1 34.1,480.2" fill="#b0606f" stroke="none" stroke-width="0" /><line x1="34.1" y1="441.5" x2="34.1" y2="480.2" stroke="#d9909e" stroke-width="0.5" /><line x1="17.2" y1="464.1" x2="51" y2="464.1" stroke="#d9909e" stroke-width="0.5" opacity="0.6"/><polygon points="67.9,441.5 84.8,455.6 84.8,464.1 67.9,480.2 51,464.1 51,455.6" fill="#c26e7e" stroke="none" stroke-width="0" /><polygon points="67.9,441.5 84.8,455.6 67.9,450.1 51,455.6" fill="#c47484" stroke="none" stroke-width="0" /><polygon points="51,464.1 67.9,450.1 84.8,464.1 67.9,468.7" fill="#ca7b8b" stroke="none" stroke-width="0" /><polygon points="51,464.1 84.8,464.1 67.9,480.2" fill="#b0606f" stroke="none" stroke-width="0" /><line x1="67.9" y1="441.5" x2="67.9" y2="480.2" stroke="#d9909e" stroke-width="0.5" /><line x1="51" y1="464.1" x2="84.8" y2="464.1" stroke="#d9909e" stroke-width="0.5" opacity="0.6"/><polygon points="101.6,441.5 118.5,455.6 118.5,464.1 101.6,480.2 84.7,464.1 84.7,455.6" fill="#c26e7e" stroke="none" stroke-width="0" /><polygon points="101.6,441.5 118.5,455.6 101.6,450.1 84.7,455.6" fill="#c47484" stroke="none" stroke-width="0" /><polygon points="84.7,464.1 101.6,450.1 118.5,464.1 101.6,468.7" fill="#ca7b8b" stroke="none" stroke-width="0" /><polygon points="84.7,464.1 118.5,464.1 101.6,480.2" fill="#b0606f" stroke="none" stroke-width="0" /><line x1="101.6" y1="441.5" x2="101.6" y2="480.2" stroke="#d9909e" stroke-width="0.5" /><line x1="84.7" y1="464.1" x2="118.5" y2="464.1" stroke="#d9909e" stroke-width="0.5" opacity="0.6"/><ellipse cx="17.2" cy="459.85" rx="3.2" ry="3.05" fill="#ffffff"/><ellipse cx="51" cy="459.85" rx="3.2" ry="3.05" fill="#ffffff"/><ellipse cx="51" cy="459.85" rx="3.2" ry="3.05" fill="#ffffff"/><ellipse cx="84.8" cy="459.85" rx="3.2" ry="3.05" fill="#ffffff"/><ellipse cx="84.7" cy="459.85" rx="3.2" ry="3.05" fill="#ffffff"/><ellipse cx="118.5" cy="459.85" rx="3.2" ry="3.05" fill="#ffffff"/><circle cx="34.1" cy="441.5" r="2.4" fill="#8c4d1c" stroke="#4a2508" stroke-width="0.6" /><circle cx="33.9" cy="441.4" r="0.91" fill="#e0a070" stroke="none" stroke-width="0" /><circle cx="34.1" cy="450.1" r="2.4" fill="#8c4d1c" stroke="#4a2508" stroke-width="0.6" /><circle cx="33.9" cy="450" r="0.91" fill="#e0a070" stroke="none" stroke-width="0" /><circle cx="34.1" cy="469.3" r="2.4" fill="#8c4d1c" stroke="#4a2508" stroke-width="0.6" /><circle cx="33.9" cy="469.2" r="0.91" fill="#e0a070" stroke="none" stroke-width="0" /><circle cx="34.1" cy="480.2" r="2.4" fill="#8c4d1c" stroke="#4a2508" stroke-width="0.6" /><circle cx="33.9" cy="480.1" r="0.91" fill="#e0a070" stroke="none" stroke-width="0" /><circle cx="67.9" cy="441.5" r="2.4" fill="#8c4d1c" stroke="#4a2508" stroke-width="0.6" /><circle cx="67.7" cy="441.4" r="0.91" fill="#e0a070" stroke="none" stroke-width="0" /><circle cx="67.9" cy="450.1" r="2.4" fill="#8c4d1c" stroke="#4a2508" stroke-width="0.6" /><circle cx="67.7" cy="450" r="0.91" fill="#e0a070" stroke="none" stroke-width="0" /><circle cx="67.9" cy="469.3" r="2.4" fill="#8c4d1c" stroke="#4a2508" stroke-width="0.6" /><circle cx="67.7" cy="469.2" r="0.91" fill="#e0a070" stroke="none" stroke-width="0" /><circle cx="67.9" cy="480.2" r="2.4" fill="#8c4d1c" stroke="#4a2508" stroke-width="0.6" /><circle cx="67.7" cy="480.1" r="0.91" fill="#e0a070" stroke="none" stroke-width="0" /><circle cx="101.6" cy="441.5" r="2.4" fill="#8c4d1c" stroke="#4a2508" stroke-width="0.6" /><circle cx="101.4" cy="441.4" r="0.91" fill="#e0a070" stroke="none" stroke-width="0" /><circle cx="101.6" cy="450.1" r="2.4" fill="#8c4d1c" stroke="#4a2508" stroke-width="0.6" /><circle cx="101.4" cy="450" r="0.91" fill="#e0a070" stroke="none" stroke-width="0" /><circle cx="101.6" cy="469.3" r="2.4" fill="#8c4d1c" stroke="#4a2508" stroke-width="0.6" /><circle cx="101.4" cy="469.2" r="0.91" fill="#e0a070" stroke="none" stroke-width="0" /><circle cx="101.6" cy="480.2" r="2.4" fill="#8c4d1c" stroke="#4a2508" stroke-width="0.6" /><circle cx="101.4" cy="480.1" r="0.91" fill="#e0a070" stroke="none" stroke-width="0" /><circle cx="17.2" cy="455.6" r="2.3" fill="#8c4d1c" stroke="#4a2508" stroke-width="0.6" /><circle cx="17" cy="455.5" r="0.87" fill="#e0a070" stroke="none" stroke-width="0" /><circle cx="17.2" cy="464.1" r="2.3" fill="#8c4d1c" stroke="#4a2508" stroke-width="0.6" /><circle cx="17" cy="464" r="0.87" fill="#e0a070" stroke="none" stroke-width="0" /><circle cx="51" cy="455.6" r="2.3" fill="#8c4d1c" stroke="#4a2508" stroke-width="0.6" /><circle cx="50.8" cy="455.5" r="0.87" fill="#e0a070" stroke="none" stroke-width="0" /><circle cx="51" cy="464.1" r="2.3" fill="#8c4d1c" stroke="#4a2508" stroke-width="0.6" /><circle cx="50.8" cy="464" r="0.87" fill="#e0a070" stroke="none" stroke-width="0" /><circle cx="84.7" cy="455.6" r="2.3" fill="#8c4d1c" stroke="#4a2508" stroke-width="0.6" /><circle cx="84.5" cy="455.5" r="0.87" fill="#e0a070" stroke="none" stroke-width="0" /><circle cx="84.7" cy="464.1" r="2.3" fill="#8c4d1c" stroke="#4a2508" stroke-width="0.6" /><circle cx="84.5" cy="464" r="0.87" fill="#e0a070" stroke="none" stroke-width="0" /></g><line x1="16.8" y1="437" x2="16.8" y2="452" stroke="#e8b8c0" stroke-width="0.8" /><circle cx="16.8" cy="443" r="1.4" fill="#8aa2cf" stroke="#4a6aa8" stroke-width="0.5" /><circle cx="16.8" cy="447.5" r="1.4" fill="#8aa2cf" stroke="#4a6aa8" stroke-width="0.5" /><line x1="50.9" y1="437" x2="50.9" y2="452" stroke="#e8b8c0" stroke-width="0.8" /><circle cx="50.9" cy="443" r="1.4" fill="#8aa2cf" stroke="#4a6aa8" stroke-width="0.5" /><circle cx="50.9" cy="447.5" r="1.4" fill="#8aa2cf" stroke="#4a6aa8" stroke-width="0.5" /><line x1="85.1" y1="437" x2="85.1" y2="452" stroke="#e8b8c0" stroke-width="0.8" /><circle cx="85.1" cy="443" r="1.4" fill="#8aa2cf" stroke="#4a6aa8" stroke-width="0.5" /><circle cx="85.1" cy="447.5" r="1.4" fill="#8aa2cf" stroke="#4a6aa8" stroke-width="0.5" /><circle cx="103.6" cy="455.8" r="3" fill="#5a6a78" stroke="none" stroke-width="0" /><line x1="103" y1="455.8" x2="108.5" y2="455.8" stroke="#b0b0b0" stroke-width="0.6" /><circle cx="103.6" cy="464.2" r="3" fill="#5a6a78" stroke="none" stroke-width="0" /><line x1="103" y1="464.2" x2="108.5" y2="464.2" stroke="#b0b0b0" stroke-width="0.6" /><line x1="136.5" y1="437.2" x2="223.8" y2="437.2" stroke="#b8b8b8" stroke-width="0.8" /><g clip-path="url(#cs2)"><polygon points="153.1,443.2 168.8,458.1 168.8,465.7 153.1,482.2 137.4,465.7 137.4,458.1" fill="#c26e7e" stroke="none" stroke-width="0" /><polygon points="153.1,443.2 168.8,458.1 153.1,451.2 137.4,458.1" fill="#c47484" stroke="none" stroke-width="0" /><polygon points="137.4,465.7 153.1,451.2 168.8,465.7 153.1,470.55" fill="#ca7b8b" stroke="none" stroke-width="0" /><polygon points="137.4,465.7 168.8,465.7 153.1,482.2" fill="#b0606f" stroke="none" stroke-width="0" /><line x1="153.1" y1="443.2" x2="153.1" y2="482.2" stroke="#d9909e" stroke-width="0.5" /><line x1="137.4" y1="465.7" x2="168.8" y2="465.7" stroke="#d9909e" stroke-width="0.5" opacity="0.6"/><polygon points="184.8,443.2 200.5,458.1 200.5,465.7 184.8,482.2 169.1,465.7 169.1,458.1" fill="#c26e7e" stroke="none" stroke-width="0" /><polygon points="184.8,443.2 200.5,458.1 184.8,451.2 169.1,458.1" fill="#c47484" stroke="none" stroke-width="0" /><polygon points="169.1,465.7 184.8,451.2 200.5,465.7 184.8,470.55" fill="#ca7b8b" stroke="none" stroke-width="0" /><polygon points="169.1,465.7 200.5,465.7 184.8,482.2" fill="#b0606f" stroke="none" stroke-width="0" /><line x1="184.8" y1="443.2" x2="184.8" y2="482.2" stroke="#d9909e" stroke-width="0.5" /><line x1="169.1" y1="465.7" x2="200.5" y2="465.7" stroke="#d9909e" stroke-width="0.5" opacity="0.6"/><polygon points="216.5,443.2 232.2,458.1 232.2,465.7 216.5,482.2 200.8,465.7 200.8,458.1" fill="#c26e7e" stroke="none" stroke-width="0" /><polygon points="216.5,443.2 232.2,458.1 216.5,451.2 200.8,458.1" fill="#c47484" stroke="none" stroke-width="0" /><polygon points="200.8,465.7 216.5,451.2 232.2,465.7 216.5,470.55" fill="#ca7b8b" stroke="none" stroke-width="0" /><polygon points="200.8,465.7 232.2,465.7 216.5,482.2" fill="#b0606f" stroke="none" stroke-width="0" /><line x1="216.5" y1="443.2" x2="216.5" y2="482.2" stroke="#d9909e" stroke-width="0.5" /><line x1="200.8" y1="465.7" x2="232.2" y2="465.7" stroke="#d9909e" stroke-width="0.5" opacity="0.6"/><ellipse cx="137.4" cy="461.9" rx="3.2" ry="2.6" fill="#ffffff"/><ellipse cx="168.8" cy="461.9" rx="3.2" ry="2.6" fill="#ffffff"/><ellipse cx="169.1" cy="461.9" rx="3.2" ry="2.6" fill="#ffffff"/><ellipse cx="200.5" cy="461.9" rx="3.2" ry="2.6" fill="#ffffff"/><ellipse cx="200.8" cy="461.9" rx="3.2" ry="2.6" fill="#ffffff"/><ellipse cx="232.2" cy="461.9" rx="3.2" ry="2.6" fill="#ffffff"/><circle cx="153.1" cy="443.2" r="2.4" fill="#6b1e70" stroke="#3a0a40" stroke-width="0.6" /><circle cx="152.9" cy="443.1" r="0.91" fill="#d8a0d8" stroke="none" stroke-width="0" /><circle cx="153.1" cy="451.2" r="2.4" fill="#6b1e70" stroke="#3a0a40" stroke-width="0.6" /><circle cx="152.9" cy="451.1" r="0.91" fill="#d8a0d8" stroke="none" stroke-width="0" /><circle cx="153.1" cy="471.4" r="2.4" fill="#6b1e70" stroke="#3a0a40" stroke-width="0.6" /><circle cx="152.9" cy="471.3" r="0.91" fill="#d8a0d8" stroke="none" stroke-width="0" /><circle cx="153.1" cy="482.2" r="2.4" fill="#6b1e70" stroke="#3a0a40" stroke-width="0.6" /><circle cx="152.9" cy="482.1" r="0.91" fill="#d8a0d8" stroke="none" stroke-width="0" /><circle cx="184.8" cy="443.2" r="2.4" fill="#6b1e70" stroke="#3a0a40" stroke-width="0.6" /><circle cx="184.6" cy="443.1" r="0.91" fill="#d8a0d8" stroke="none" stroke-width="0" /><circle cx="184.8" cy="451.2" r="2.4" fill="#6b1e70" stroke="#3a0a40" stroke-width="0.6" /><circle cx="184.6" cy="451.1" r="0.91" fill="#d8a0d8" stroke="none" stroke-width="0" /><circle cx="184.8" cy="471.4" r="2.4" fill="#6b1e70" stroke="#3a0a40" stroke-width="0.6" /><circle cx="184.6" cy="471.3" r="0.91" fill="#d8a0d8" stroke="none" stroke-width="0" /><circle cx="184.8" cy="482.2" r="2.4" fill="#6b1e70" stroke="#3a0a40" stroke-width="0.6" /><circle cx="184.6" cy="482.1" r="0.91" fill="#d8a0d8" stroke="none" stroke-width="0" /><circle cx="216.5" cy="443.2" r="2.4" fill="#6b1e70" stroke="#3a0a40" stroke-width="0.6" /><circle cx="216.3" cy="443.1" r="0.91" fill="#d8a0d8" stroke="none" stroke-width="0" /><circle cx="216.5" cy="451.2" r="2.4" fill="#6b1e70" stroke="#3a0a40" stroke-width="0.6" /><circle cx="216.3" cy="451.1" r="0.91" fill="#d8a0d8" stroke="none" stroke-width="0" /><circle cx="216.5" cy="471.4" r="2.4" fill="#6b1e70" stroke="#3a0a40" stroke-width="0.6" /><circle cx="216.3" cy="471.3" r="0.91" fill="#d8a0d8" stroke="none" stroke-width="0" /><circle cx="216.5" cy="482.2" r="2.4" fill="#6b1e70" stroke="#3a0a40" stroke-width="0.6" /><circle cx="216.3" cy="482.1" r="0.91" fill="#d8a0d8" stroke="none" stroke-width="0" /><circle cx="137.4" cy="458.1" r="2.3" fill="#8c4d1c" stroke="#4a2508" stroke-width="0.6" /><circle cx="137.2" cy="458" r="0.87" fill="#e0a070" stroke="none" stroke-width="0" /><circle cx="137.4" cy="465.7" r="2.3" fill="#8c4d1c" stroke="#4a2508" stroke-width="0.6" /><circle cx="137.2" cy="465.6" r="0.87" fill="#e0a070" stroke="none" stroke-width="0" /><circle cx="169.1" cy="458.1" r="2.3" fill="#8c4d1c" stroke="#4a2508" stroke-width="0.6" /><circle cx="168.9" cy="458" r="0.87" fill="#e0a070" stroke="none" stroke-width="0" /><circle cx="169.1" cy="465.7" r="2.3" fill="#8c4d1c" stroke="#4a2508" stroke-width="0.6" /><circle cx="168.9" cy="465.6" r="0.87" fill="#e0a070" stroke="none" stroke-width="0" /><circle cx="200.8" cy="458.1" r="2.3" fill="#6b1e70" stroke="#3a0a40" stroke-width="0.6" /><circle cx="200.6" cy="458" r="0.87" fill="#d8a0d8" stroke="none" stroke-width="0" /><circle cx="200.8" cy="465.7" r="2.3" fill="#6b1e70" stroke="#3a0a40" stroke-width="0.6" /><circle cx="200.6" cy="465.6" r="0.87" fill="#d8a0d8" stroke="none" stroke-width="0" /></g><line x1="137.4" y1="438" x2="137.4" y2="453" stroke="#e8b8c0" stroke-width="0.8" /><circle cx="137.4" cy="444.5" r="1.4" fill="#8aa2cf" stroke="#4a6aa8" stroke-width="0.5" /><circle cx="137.4" cy="449" r="1.4" fill="#8aa2cf" stroke="#4a6aa8" stroke-width="0.5" /><line x1="168.8" y1="438" x2="168.8" y2="453" stroke="#e8b8c0" stroke-width="0.8" /><circle cx="168.8" cy="444.5" r="1.4" fill="#8aa2cf" stroke="#4a6aa8" stroke-width="0.5" /><circle cx="168.8" cy="449" r="1.4" fill="#8aa2cf" stroke="#4a6aa8" stroke-width="0.5" /><line x1="200.5" y1="438" x2="200.5" y2="453" stroke="#e8b8c0" stroke-width="0.8" /><circle cx="200.5" cy="444.5" r="1.4" fill="#8aa2cf" stroke="#4a6aa8" stroke-width="0.5" /><circle cx="200.5" cy="449" r="1.4" fill="#8aa2cf" stroke="#4a6aa8" stroke-width="0.5" /><circle cx="219.2" cy="458.1" r="3" fill="#5a6a78" stroke="none" stroke-width="0" /><line x1="219" y1="458.1" x2="224.5" y2="458.1" stroke="#b0b0b0" stroke-width="0.6" /><circle cx="219.2" cy="465.7" r="3" fill="#5a6a78" stroke="none" stroke-width="0" /><line x1="219" y1="465.7" x2="224.5" y2="465.7" stroke="#b0b0b0" stroke-width="0.6" /><g clip-path="url(#cl238)"><polygon points="256.1,449.8 272.5,468.8 256.1,486 239.7,468.8" fill="#c36f7f" stroke="none" stroke-width="0" /><polygon points="239.7,468.8 272.5,468.8 256.1,486" fill="#b5606f" stroke="none" stroke-width="0" /><polygon points="256.1,449.8 239.7,468.8 256.1,468.8" fill="#c97888" stroke="none" stroke-width="0" /><circle cx="256.1" cy="466.8" r="4" fill="#cf8595" stroke="none" stroke-width="0" opacity="0.6"/><polyline points="239.7,468.8 256.1,449.8 272.5,468.8" fill="none" stroke="#8e4a5a" stroke-width="0.6" opacity="0.7"/><polygon points="283.4,443 298.4,462 283.4,481.5 268.4,462" fill="#c36f7f" stroke="none" stroke-width="0" /><polygon points="268.4,462 298.4,462 283.4,481.5" fill="#b5606f" stroke="none" stroke-width="0" /><polygon points="283.4,443 268.4,462 283.4,462" fill="#c97888" stroke="none" stroke-width="0" /><circle cx="283.4" cy="460" r="4" fill="#cf8595" stroke="none" stroke-width="0" opacity="0.6"/><polyline points="268.4,462 283.4,443 298.4,462" fill="none" stroke="#8e4a5a" stroke-width="0.6" opacity="0.7"/><polygon points="308.9,449 322.9,468 308.9,486.5 294.9,468" fill="#c36f7f" stroke="none" stroke-width="0" /><polygon points="294.9,468 322.9,468 308.9,486.5" fill="#b5606f" stroke="none" stroke-width="0" /><polygon points="308.9,449 294.9,468 308.9,468" fill="#c97888" stroke="none" stroke-width="0" /><circle cx="308.9" cy="466" r="4" fill="#cf8595" stroke="none" stroke-width="0" opacity="0.6"/><polyline points="294.9,468 308.9,449 322.9,468" fill="none" stroke="#8e4a5a" stroke-width="0.6" opacity="0.7"/><polygon points="334,449 346,468 334,486.5 322,468" fill="#c36f7f" stroke="none" stroke-width="0" /><polygon points="322,468 346,468 334,486.5" fill="#b5606f" stroke="none" stroke-width="0" /><polygon points="334,449 322,468 334,468" fill="#c97888" stroke="none" stroke-width="0" /><circle cx="334" cy="466" r="4" fill="#cf8595" stroke="none" stroke-width="0" opacity="0.6"/><polyline points="322,468 334,449 346,468" fill="none" stroke="#8e4a5a" stroke-width="0.6" opacity="0.7"/><line x1="239" y1="468.8" x2="322" y2="468.8" stroke="#8a8a8a" stroke-width="0.7" opacity="0.7"/><line x1="268" y1="461.5" x2="330" y2="461.5" stroke="#8a8a8a" stroke-width="0.7" opacity="0.7"/><circle cx="256.1" cy="445.3" r="2.5" fill="#8c4d1c" stroke="#4a2508" stroke-width="0.6" /><circle cx="255.9" cy="445.2" r="0.95" fill="#e0a070" stroke="none" stroke-width="0" /><circle cx="256.1" cy="488" r="2.5" fill="#8c4d1c" stroke="#4a2508" stroke-width="0.6" /><circle cx="255.9" cy="487.9" r="0.95" fill="#e0a070" stroke="none" stroke-width="0" /><circle cx="248.1" cy="448.8" r="1.5" fill="#a8bce0" stroke="#4a6aa8" stroke-width="0.6" /><line x1="244.1" y1="448.8" x2="252.1" y2="447.8" stroke="#d0a0a8" stroke-width="0.6" /><circle cx="263.1" cy="448.8" r="1.5" fill="#a8bce0" stroke="#4a6aa8" stroke-width="0.6" /><line x1="259.1" y1="448.8" x2="267.1" y2="447.8" stroke="#d0a0a8" stroke-width="0.6" /><circle cx="283.4" cy="438.5" r="2.5" fill="#8c4d1c" stroke="#4a2508" stroke-width="0.6" /><circle cx="283.2" cy="438.4" r="0.95" fill="#e0a070" stroke="none" stroke-width="0" /><circle cx="283.4" cy="483.5" r="2.5" fill="#8c4d1c" stroke="#4a2508" stroke-width="0.6" /><circle cx="283.2" cy="483.4" r="0.95" fill="#e0a070" stroke="none" stroke-width="0" /><circle cx="275.4" cy="442" r="1.5" fill="#a8bce0" stroke="#4a6aa8" stroke-width="0.6" /><line x1="271.4" y1="442" x2="279.4" y2="441" stroke="#d0a0a8" stroke-width="0.6" /><circle cx="290.4" cy="442" r="1.5" fill="#a8bce0" stroke="#4a6aa8" stroke-width="0.6" /><line x1="286.4" y1="442" x2="294.4" y2="441" stroke="#d0a0a8" stroke-width="0.6" /><circle cx="308.9" cy="444.5" r="2.5" fill="#8c4d1c" stroke="#4a2508" stroke-width="0.6" /><circle cx="308.7" cy="444.4" r="0.95" fill="#e0a070" stroke="none" stroke-width="0" /><circle cx="308.9" cy="488.5" r="2.5" fill="#8c4d1c" stroke="#4a2508" stroke-width="0.6" /><circle cx="308.7" cy="488.4" r="0.95" fill="#e0a070" stroke="none" stroke-width="0" /><circle cx="300.9" cy="448" r="1.5" fill="#a8bce0" stroke="#4a6aa8" stroke-width="0.6" /><line x1="296.9" y1="448" x2="304.9" y2="447" stroke="#d0a0a8" stroke-width="0.6" /><circle cx="315.9" cy="448" r="1.5" fill="#a8bce0" stroke="#4a6aa8" stroke-width="0.6" /><line x1="311.9" y1="448" x2="319.9" y2="447" stroke="#d0a0a8" stroke-width="0.6" /><circle cx="334" cy="444.5" r="2.5" fill="#8c4d1c" stroke="#4a2508" stroke-width="0.6" /><circle cx="333.8" cy="444.4" r="0.95" fill="#e0a070" stroke="none" stroke-width="0" /><circle cx="334" cy="488.5" r="2.5" fill="#8c4d1c" stroke="#4a2508" stroke-width="0.6" /><circle cx="333.8" cy="488.4" r="0.95" fill="#e0a070" stroke="none" stroke-width="0" /><circle cx="326" cy="448" r="1.5" fill="#a8bce0" stroke="#4a6aa8" stroke-width="0.6" /><line x1="322" y1="448" x2="330" y2="447" stroke="#d0a0a8" stroke-width="0.6" /><circle cx="341" cy="448" r="1.5" fill="#a8bce0" stroke="#4a6aa8" stroke-width="0.6" /><line x1="337" y1="448" x2="345" y2="447" stroke="#d0a0a8" stroke-width="0.6" /><circle cx="240.2" cy="457.5" r="2.4" fill="#8c4d1c" stroke="#4a2508" stroke-width="0.6" /><circle cx="240" cy="457.4" r="0.91" fill="#e0a070" stroke="none" stroke-width="0" /><circle cx="240.2" cy="462.7" r="2.4" fill="#8c4d1c" stroke="#4a2508" stroke-width="0.6" /><circle cx="240" cy="462.6" r="0.91" fill="#e0a070" stroke="none" stroke-width="0" /><circle cx="240.2" cy="467.8" r="2.4" fill="#8c4d1c" stroke="#4a2508" stroke-width="0.6" /><circle cx="240" cy="467.7" r="0.91" fill="#e0a070" stroke="none" stroke-width="0" /><circle cx="268.9" cy="457.5" r="2.4" fill="#8c4d1c" stroke="#4a2508" stroke-width="0.6" /><circle cx="268.7" cy="457.4" r="0.91" fill="#e0a070" stroke="none" stroke-width="0" /><circle cx="268.9" cy="462.7" r="2.4" fill="#8c4d1c" stroke="#4a2508" stroke-width="0.6" /><circle cx="268.7" cy="462.6" r="0.91" fill="#e0a070" stroke="none" stroke-width="0" /><circle cx="268.9" cy="467.8" r="2.4" fill="#8c4d1c" stroke="#4a2508" stroke-width="0.6" /><circle cx="268.7" cy="467.7" r="0.91" fill="#e0a070" stroke="none" stroke-width="0" /><circle cx="295.4" cy="457.5" r="2.4" fill="#8c4d1c" stroke="#4a2508" stroke-width="0.6" /><circle cx="295.2" cy="457.4" r="0.91" fill="#e0a070" stroke="none" stroke-width="0" /><circle cx="295.4" cy="462.7" r="2.4" fill="#8c4d1c" stroke="#4a2508" stroke-width="0.6" /><circle cx="295.2" cy="462.6" r="0.91" fill="#e0a070" stroke="none" stroke-width="0" /><circle cx="295.4" cy="467.8" r="2.4" fill="#8c4d1c" stroke="#4a2508" stroke-width="0.6" /><circle cx="295.2" cy="467.7" r="0.91" fill="#e0a070" stroke="none" stroke-width="0" /><circle cx="322.5" cy="457.5" r="2.4" fill="#8c4d1c" stroke="#4a2508" stroke-width="0.6" /><circle cx="322.3" cy="457.4" r="0.91" fill="#e0a070" stroke="none" stroke-width="0" /><circle cx="322.5" cy="462.7" r="2.4" fill="#8c4d1c" stroke="#4a2508" stroke-width="0.6" /><circle cx="322.3" cy="462.6" r="0.91" fill="#e0a070" stroke="none" stroke-width="0" /><circle cx="322.5" cy="467.8" r="2.4" fill="#8c4d1c" stroke="#4a2508" stroke-width="0.6" /><circle cx="322.3" cy="467.7" r="0.91" fill="#e0a070" stroke="none" stroke-width="0" /></g><polygon points="248.4,436 263.7,436 256.1,444" fill="#c87080" stroke="none" stroke-width="0" /><polygon points="301.2,436 316.5,436 308.9,443.5" fill="#c87080" stroke="none" stroke-width="0" /><g clip-path="url(#cl368)"><polygon points="382,451 395.1,472 382,488 368.9,472" fill="#c36f7f" stroke="none" stroke-width="0" /><polygon points="368.9,472 395.1,472 382,488" fill="#b5606f" stroke="none" stroke-width="0" /><polygon points="382,451 368.9,472 382,472" fill="#c97888" stroke="none" stroke-width="0" /><circle cx="382" cy="470" r="4" fill="#cf8595" stroke="none" stroke-width="0" opacity="0.6"/><polyline points="368.9,472 382,451 395.1,472" fill="none" stroke="#8e4a5a" stroke-width="0.6" opacity="0.7"/><polygon points="407.4,444.9 420,468.5 407.4,481.5 394.8,468.5" fill="#c36f7f" stroke="none" stroke-width="0" /><polygon points="394.8,468.5 420,468.5 407.4,481.5" fill="#b5606f" stroke="none" stroke-width="0" /><polygon points="407.4,444.9 394.8,468.5 407.4,468.5" fill="#c97888" stroke="none" stroke-width="0" /><circle cx="407.4" cy="466.5" r="4" fill="#cf8595" stroke="none" stroke-width="0" opacity="0.6"/><polyline points="394.8,468.5 407.4,444.9 420,468.5" fill="none" stroke="#8e4a5a" stroke-width="0.6" opacity="0.7"/><polygon points="432.9,451 445.9,472 432.9,487 419.9,472" fill="#c36f7f" stroke="none" stroke-width="0" /><polygon points="419.9,472 445.9,472 432.9,487" fill="#b5606f" stroke="none" stroke-width="0" /><polygon points="432.9,451 419.9,472 432.9,472" fill="#c97888" stroke="none" stroke-width="0" /><circle cx="432.9" cy="470" r="4" fill="#cf8595" stroke="none" stroke-width="0" opacity="0.6"/><polyline points="419.9,472 432.9,451 445.9,472" fill="none" stroke="#8e4a5a" stroke-width="0.6" opacity="0.7"/><polygon points="458,451 470,472 458,487 446,472" fill="#c36f7f" stroke="none" stroke-width="0" /><polygon points="446,472 470,472 458,487" fill="#b5606f" stroke="none" stroke-width="0" /><polygon points="458,451 446,472 458,472" fill="#c97888" stroke="none" stroke-width="0" /><circle cx="458" cy="470" r="4" fill="#cf8595" stroke="none" stroke-width="0" opacity="0.6"/><polyline points="446,472 458,451 470,472" fill="none" stroke="#8e4a5a" stroke-width="0.6" opacity="0.7"/><line x1="368" y1="472" x2="455" y2="472" stroke="#8a8a8a" stroke-width="0.7" opacity="0.7"/><line x1="420" y1="462.4" x2="455" y2="462.4" stroke="#8a8a8a" stroke-width="0.7" opacity="0.7"/><circle cx="382" cy="446.5" r="2.5" fill="#6b1e70" stroke="#3a0a40" stroke-width="0.6" /><circle cx="381.8" cy="446.4" r="0.95" fill="#d8a0d8" stroke="none" stroke-width="0" /><circle cx="382" cy="490" r="2.5" fill="#6b1e70" stroke="#3a0a40" stroke-width="0.6" /><circle cx="381.8" cy="489.9" r="0.95" fill="#d8a0d8" stroke="none" stroke-width="0" /><circle cx="374" cy="450" r="1.5" fill="#a8bce0" stroke="#4a6aa8" stroke-width="0.6" /><line x1="370" y1="450" x2="378" y2="449" stroke="#d0a0a8" stroke-width="0.6" /><circle cx="389" cy="450" r="1.5" fill="#a8bce0" stroke="#4a6aa8" stroke-width="0.6" /><line x1="385" y1="450" x2="393" y2="449" stroke="#d0a0a8" stroke-width="0.6" /><circle cx="407.4" cy="440.4" r="2.5" fill="#6b1e70" stroke="#3a0a40" stroke-width="0.6" /><circle cx="407.2" cy="440.3" r="0.95" fill="#d8a0d8" stroke="none" stroke-width="0" /><circle cx="407.4" cy="483.5" r="2.5" fill="#6b1e70" stroke="#3a0a40" stroke-width="0.6" /><circle cx="407.2" cy="483.4" r="0.95" fill="#d8a0d8" stroke="none" stroke-width="0" /><circle cx="399.4" cy="443.9" r="1.5" fill="#a8bce0" stroke="#4a6aa8" stroke-width="0.6" /><line x1="395.4" y1="443.9" x2="403.4" y2="442.9" stroke="#d0a0a8" stroke-width="0.6" /><circle cx="414.4" cy="443.9" r="1.5" fill="#a8bce0" stroke="#4a6aa8" stroke-width="0.6" /><line x1="410.4" y1="443.9" x2="418.4" y2="442.9" stroke="#d0a0a8" stroke-width="0.6" /><circle cx="432.9" cy="446.5" r="2.5" fill="#6b1e70" stroke="#3a0a40" stroke-width="0.6" /><circle cx="432.7" cy="446.4" r="0.95" fill="#d8a0d8" stroke="none" stroke-width="0" /><circle cx="432.9" cy="489" r="2.5" fill="#6b1e70" stroke="#3a0a40" stroke-width="0.6" /><circle cx="432.7" cy="488.9" r="0.95" fill="#d8a0d8" stroke="none" stroke-width="0" /><circle cx="424.9" cy="450" r="1.5" fill="#a8bce0" stroke="#4a6aa8" stroke-width="0.6" /><line x1="420.9" y1="450" x2="428.9" y2="449" stroke="#d0a0a8" stroke-width="0.6" /><circle cx="439.9" cy="450" r="1.5" fill="#a8bce0" stroke="#4a6aa8" stroke-width="0.6" /><line x1="435.9" y1="450" x2="443.9" y2="449" stroke="#d0a0a8" stroke-width="0.6" /><circle cx="458" cy="446.5" r="2.5" fill="#6b1e70" stroke="#3a0a40" stroke-width="0.6" /><circle cx="457.8" cy="446.4" r="0.95" fill="#d8a0d8" stroke="none" stroke-width="0" /><circle cx="458" cy="489" r="2.5" fill="#6b1e70" stroke="#3a0a40" stroke-width="0.6" /><circle cx="457.8" cy="488.9" r="0.95" fill="#d8a0d8" stroke="none" stroke-width="0" /><circle cx="450" cy="450" r="1.5" fill="#a8bce0" stroke="#4a6aa8" stroke-width="0.6" /><line x1="446" y1="450" x2="454" y2="449" stroke="#d0a0a8" stroke-width="0.6" /><circle cx="465" cy="450" r="1.5" fill="#a8bce0" stroke="#4a6aa8" stroke-width="0.6" /><line x1="461" y1="450" x2="469" y2="449" stroke="#d0a0a8" stroke-width="0.6" /><circle cx="369.4" cy="460.5" r="2.4" fill="#6b1e70" stroke="#3a0a40" stroke-width="0.6" /><circle cx="369.2" cy="460.4" r="0.91" fill="#d8a0d8" stroke="none" stroke-width="0" /><circle cx="369.4" cy="466" r="2.4" fill="#6b1e70" stroke="#3a0a40" stroke-width="0.6" /><circle cx="369.2" cy="465.9" r="0.91" fill="#d8a0d8" stroke="none" stroke-width="0" /><circle cx="369.4" cy="472" r="2.4" fill="#6b1e70" stroke="#3a0a40" stroke-width="0.6" /><circle cx="369.2" cy="471.9" r="0.91" fill="#d8a0d8" stroke="none" stroke-width="0" /><circle cx="395.3" cy="460.5" r="2.4" fill="#6b1e70" stroke="#3a0a40" stroke-width="0.6" /><circle cx="395.1" cy="460.4" r="0.91" fill="#d8a0d8" stroke="none" stroke-width="0" /><circle cx="395.3" cy="466" r="2.4" fill="#6b1e70" stroke="#3a0a40" stroke-width="0.6" /><circle cx="395.1" cy="465.9" r="0.91" fill="#d8a0d8" stroke="none" stroke-width="0" /><circle cx="395.3" cy="472" r="2.4" fill="#6b1e70" stroke="#3a0a40" stroke-width="0.6" /><circle cx="395.1" cy="471.9" r="0.91" fill="#d8a0d8" stroke="none" stroke-width="0" /><circle cx="420.4" cy="460.5" r="2.4" fill="#6b1e70" stroke="#3a0a40" stroke-width="0.6" /><circle cx="420.2" cy="460.4" r="0.91" fill="#d8a0d8" stroke="none" stroke-width="0" /><circle cx="420.4" cy="466" r="2.4" fill="#6b1e70" stroke="#3a0a40" stroke-width="0.6" /><circle cx="420.2" cy="465.9" r="0.91" fill="#d8a0d8" stroke="none" stroke-width="0" /><circle cx="420.4" cy="472" r="2.4" fill="#6b1e70" stroke="#3a0a40" stroke-width="0.6" /><circle cx="420.2" cy="471.9" r="0.91" fill="#d8a0d8" stroke="none" stroke-width="0" /><circle cx="446.5" cy="460.5" r="2.4" fill="#6b1e70" stroke="#3a0a40" stroke-width="0.6" /><circle cx="446.3" cy="460.4" r="0.91" fill="#d8a0d8" stroke="none" stroke-width="0" /><circle cx="446.5" cy="466" r="2.4" fill="#6b1e70" stroke="#3a0a40" stroke-width="0.6" /><circle cx="446.3" cy="465.9" r="0.91" fill="#d8a0d8" stroke="none" stroke-width="0" /><circle cx="446.5" cy="472" r="2.4" fill="#6b1e70" stroke="#3a0a40" stroke-width="0.6" /><circle cx="446.3" cy="471.9" r="0.91" fill="#d8a0d8" stroke="none" stroke-width="0" /></g><line x1="50.9" y1="466" x2="50.9" y2="493" stroke="#7b96c8" stroke-width="1" stroke-dasharray="3,2"/><line x1="85.3" y1="466" x2="85.3" y2="493" stroke="#7b96c8" stroke-width="1" stroke-dasharray="3,2"/><line x1="51.9" y1="490.7" x2="84.3" y2="490.7" stroke="#7b96c8" stroke-width="1" /><polyline points="54.1,488.7 51.9,490.7 54.1,492.7" fill="none" stroke="#7b96c8" stroke-width="1" /><polyline points="82.1,488.7 84.3,490.7 82.1,492.7" fill="none" stroke="#7b96c8" stroke-width="1" /><line x1="168.8" y1="468" x2="168.8" y2="492" stroke="#7b96c8" stroke-width="1" stroke-dasharray="3,2"/><line x1="200.5" y1="468" x2="200.5" y2="492" stroke="#7b96c8" stroke-width="1" stroke-dasharray="3,2"/><line x1="169.8" y1="489.7" x2="199.5" y2="489.7" stroke="#7b96c8" stroke-width="1" /><polyline points="172,487.7 169.8,489.7 172,491.7" fill="none" stroke="#7b96c8" stroke-width="1" /><polyline points="197.3,487.7 199.5,489.7 197.3,491.7" fill="none" stroke="#7b96c8" stroke-width="1" /><line x1="269.5" y1="466" x2="269.5" y2="494" stroke="#7b96c8" stroke-width="1" stroke-dasharray="3,2"/><line x1="297.3" y1="466" x2="297.3" y2="494" stroke="#7b96c8" stroke-width="1" stroke-dasharray="3,2"/><line x1="270.5" y1="491" x2="296.3" y2="491" stroke="#7b96c8" stroke-width="1" /><polyline points="272.7,489 270.5,491 272.7,493" fill="none" stroke="#7b96c8" stroke-width="1" /><polyline points="294.1,489 296.3,491 294.1,493" fill="none" stroke="#7b96c8" stroke-width="1" /><line x1="394.8" y1="472" x2="394.8" y2="494" stroke="#7b96c8" stroke-width="1" stroke-dasharray="3,2"/><line x1="420.6" y1="472" x2="420.6" y2="494" stroke="#7b96c8" stroke-width="1" stroke-dasharray="3,2"/><line x1="395.8" y1="491.3" x2="419.6" y2="491.3" stroke="#7b96c8" stroke-width="1" /><polyline points="398,489.3 395.8,491.3 398,493.3" fill="none" stroke="#7b96c8" stroke-width="1" /><polyline points="417.4,489.3 419.6,491.3 417.4,493.3" fill="none" stroke="#7b96c8" stroke-width="1" /><line x1="492.7" y1="470" x2="492.7" y2="494" stroke="#7b96c8" stroke-width="1" stroke-dasharray="3,2"/><line x1="518.1" y1="470" x2="518.1" y2="494" stroke="#7b96c8" stroke-width="1" stroke-dasharray="3,2"/><line x1="493.7" y1="490.7" x2="517.1" y2="490.7" stroke="#7b96c8" stroke-width="1" /><polyline points="495.9,488.7 493.7,490.7 495.9,492.7" fill="none" stroke="#7b96c8" stroke-width="1" /><polyline points="514.9,488.7 517.1,490.7 514.9,492.7" fill="none" stroke="#7b96c8" stroke-width="1" /><line x1="618.8" y1="470" x2="618.8" y2="493" stroke="#7b96c8" stroke-width="1" stroke-dasharray="3,2"/><line x1="644.3" y1="470" x2="644.3" y2="493" stroke="#7b96c8" stroke-width="1" stroke-dasharray="3,2"/><line x1="619.8" y1="489.8" x2="643.3" y2="489.8" stroke="#7b96c8" stroke-width="1" /><polyline points="622,487.8 619.8,489.8 622,491.8" fill="none" stroke="#7b96c8" stroke-width="1" /><polyline points="641.1,487.8 643.3,489.8 641.1,491.8" fill="none" stroke="#7b96c8" stroke-width="1" /><g clip-path="url(#cl111a)"><line x1="465" y1="440.4" x2="551" y2="440.4" stroke="#9a9a9a" stroke-width="0.8" /><line x1="465" y1="473.2" x2="551" y2="473.2" stroke="#9a9a9a" stroke-width="0.8" /><line x1="465" y1="482.5" x2="551" y2="482.5" stroke="#9a9a9a" stroke-width="0.8" /><polygon points="463.79,433.63 475.61,436.54 476.61,438.74 465.29,435.83" fill="#8e4858" stroke="none" stroke-width="0" /><polygon points="465.29,435.83 476.61,438.74 476.61,459.35 465.29,464.28" fill="#c46e7f" stroke="none" stroke-width="0" /><polygon points="465.29,435.83 476.61,438.74 470.95,449.55" fill="#b86676" stroke="none" stroke-width="0" /><polygon points="465.29,464.28 476.61,459.35 470.95,449.55" fill="#cb7a8a" stroke="none" stroke-width="0" opacity="0.7"/><line x1="465.29" y1="435.83" x2="476.61" y2="459.35" stroke="#d99aa6" stroke-width="0.5" /><circle cx="470.95" cy="449.55" r="3.5" fill="#d08898" stroke="none" stroke-width="0" opacity="0.5"/><polygon points="472.65,455.35 492.86,459.27 493.86,461.47 474.15,457.55" fill="#8e4858" stroke="none" stroke-width="0" /><polygon points="474.15,457.55 493.86,461.47 493.86,488.91 470.23,483.98" fill="#c46e7f" stroke="none" stroke-width="0" /><polygon points="474.15,457.55 493.86,461.47 483.02,472.98" fill="#b86676" stroke="none" stroke-width="0" /><polygon points="470.23,483.98 493.86,488.91 483.02,472.98" fill="#cb7a8a" stroke="none" stroke-width="0" opacity="0.7"/><line x1="474.15" y1="457.55" x2="493.86" y2="488.91" stroke="#d99aa6" stroke-width="0.5" /><circle cx="483.02" cy="472.98" r="3.5" fill="#d08898" stroke="none" stroke-width="0" opacity="0.5"/><circle cx="474.15" cy="457.55" r="2.7" fill="#8c4d1c" stroke="#4a2508" stroke-width="0.6" /><circle cx="473.95" cy="457.45" r="1.03" fill="#e0a070" stroke="none" stroke-width="0" /><circle cx="493.86" cy="461.47" r="2.7" fill="#8c4d1c" stroke="#4a2508" stroke-width="0.6" /><circle cx="493.66" cy="461.37" r="1.03" fill="#e0a070" stroke="none" stroke-width="0" /><circle cx="493.86" cy="488.91" r="2.7" fill="#8c4d1c" stroke="#4a2508" stroke-width="0.6" /><circle cx="493.66" cy="488.81" r="1.03" fill="#e0a070" stroke="none" stroke-width="0" /><circle cx="470.23" cy="483.98" r="2.7" fill="#8c4d1c" stroke="#4a2508" stroke-width="0.6" /><circle cx="470.03" cy="483.88" r="1.03" fill="#e0a070" stroke="none" stroke-width="0" /><polygon points="492.51,440.08 515.52,447.92 516.52,450.12 494.01,442.28" fill="#8e4858" stroke="none" stroke-width="0" /><polygon points="494.01,442.28 516.52,450.12 518.54,478.57 495.02,473.64" fill="#c46e7f" stroke="none" stroke-width="0" /><polygon points="494.01,442.28 516.52,450.12 506.02,461.15" fill="#b86676" stroke="none" stroke-width="0" /><polygon points="495.02,473.64 518.54,478.57 506.02,461.15" fill="#cb7a8a" stroke="none" stroke-width="0" opacity="0.7"/><line x1="494.01" y1="442.28" x2="518.54" y2="478.57" stroke="#d99aa6" stroke-width="0.5" /><circle cx="506.02" cy="461.15" r="3.5" fill="#d08898" stroke="none" stroke-width="0" opacity="0.5"/><circle cx="494.01" cy="442.28" r="2.7" fill="#8c4d1c" stroke="#4a2508" stroke-width="0.6" /><circle cx="493.81" cy="442.18" r="1.03" fill="#e0a070" stroke="none" stroke-width="0" /><circle cx="516.52" cy="450.12" r="2.7" fill="#8c4d1c" stroke="#4a2508" stroke-width="0.6" /><circle cx="516.32" cy="450.02" r="1.03" fill="#e0a070" stroke="none" stroke-width="0" /><circle cx="518.54" cy="478.57" r="2.7" fill="#8c4d1c" stroke="#4a2508" stroke-width="0.6" /><circle cx="518.34" cy="478.47" r="1.03" fill="#e0a070" stroke="none" stroke-width="0" /><circle cx="495.02" cy="473.64" r="2.7" fill="#8c4d1c" stroke="#4a2508" stroke-width="0.6" /><circle cx="494.82" cy="473.54" r="1.03" fill="#e0a070" stroke="none" stroke-width="0" /><polygon points="516.99,429.69 541.01,436.52 542.01,438.72 518.49,431.89" fill="#8e4858" stroke="none" stroke-width="0" /><polygon points="518.49,431.89 542.01,438.72 543.01,466.16 519.49,462.24" fill="#c46e7f" stroke="none" stroke-width="0" /><polygon points="518.49,431.89 542.01,438.72 530.75,449.75" fill="#b86676" stroke="none" stroke-width="0" /><polygon points="519.49,462.24 543.01,466.16 530.75,449.75" fill="#cb7a8a" stroke="none" stroke-width="0" opacity="0.7"/><line x1="518.49" y1="431.89" x2="543.01" y2="466.16" stroke="#d99aa6" stroke-width="0.5" /><circle cx="530.75" cy="449.75" r="3.5" fill="#d08898" stroke="none" stroke-width="0" opacity="0.5"/><circle cx="518.49" cy="431.89" r="2.7" fill="#8c4d1c" stroke="#4a2508" stroke-width="0.6" /><circle cx="518.29" cy="431.79" r="1.03" fill="#e0a070" stroke="none" stroke-width="0" /><circle cx="542.01" cy="438.72" r="2.7" fill="#8c4d1c" stroke="#4a2508" stroke-width="0.6" /><circle cx="541.81" cy="438.62" r="1.03" fill="#e0a070" stroke="none" stroke-width="0" /><circle cx="543.01" cy="466.16" r="2.7" fill="#8c4d1c" stroke="#4a2508" stroke-width="0.6" /><circle cx="542.81" cy="466.06" r="1.03" fill="#e0a070" stroke="none" stroke-width="0" /><circle cx="519.49" cy="462.24" r="2.7" fill="#8c4d1c" stroke="#4a2508" stroke-width="0.6" /><circle cx="519.29" cy="462.14" r="1.03" fill="#e0a070" stroke="none" stroke-width="0" /><circle cx="476" cy="440" r="2.7" fill="#8c4d1c" stroke="#4a2508" stroke-width="0.6" /><circle cx="475.8" cy="439.9" r="1.03" fill="#e0a070" stroke="none" stroke-width="0" /><circle cx="477.5" cy="444.8" r="2.7" fill="#8c4d1c" stroke="#4a2508" stroke-width="0.6" /><circle cx="477.3" cy="444.7" r="1.03" fill="#e0a070" stroke="none" stroke-width="0" /><circle cx="469.3" cy="478" r="2.7" fill="#8c4d1c" stroke="#4a2508" stroke-width="0.6" /><circle cx="469.1" cy="477.9" r="1.03" fill="#e0a070" stroke="none" stroke-width="0" /><circle cx="497.2" cy="445" r="2.7" fill="#8c4d1c" stroke="#4a2508" stroke-width="0.6" /><circle cx="497" cy="444.9" r="1.03" fill="#e0a070" stroke="none" stroke-width="0" /><circle cx="517.6" cy="449" r="2.7" fill="#8c4d1c" stroke="#4a2508" stroke-width="0.6" /><circle cx="517.4" cy="448.9" r="1.03" fill="#e0a070" stroke="none" stroke-width="0" /><circle cx="479" cy="453" r="1.6" fill="#a8bce0" stroke="#4a6aa8" stroke-width="0.6" /><circle cx="500" cy="457" r="1.6" fill="#a8bce0" stroke="#4a6aa8" stroke-width="0.6" /><circle cx="523" cy="446" r="1.6" fill="#a8bce0" stroke="#4a6aa8" stroke-width="0.6" /><circle cx="521" cy="477" r="1.6" fill="#a8bce0" stroke="#4a6aa8" stroke-width="0.6" /><circle cx="524" cy="487" r="1.6" fill="#a8bce0" stroke="#4a6aa8" stroke-width="0.6" /></g><g clip-path="url(#cl111b)"><line x1="590" y1="438.7" x2="672" y2="438.7" stroke="#9a9a9a" stroke-width="0.8" /><line x1="590" y1="474.3" x2="672" y2="474.3" stroke="#9a9a9a" stroke-width="0.8" /><line x1="590" y1="479.7" x2="672" y2="479.7" stroke="#9a9a9a" stroke-width="0.8" /><polygon points="590.46,433.25 606.3,436.28 607.3,438.48 591.96,435.45" fill="#8e4858" stroke="none" stroke-width="0" /><polygon points="591.96,435.45 607.3,438.48 607.98,459.98 591.96,462" fill="#c46e7f" stroke="none" stroke-width="0" /><polygon points="591.96,435.45 607.3,438.48 599.8,448.98" fill="#b86676" stroke="none" stroke-width="0" /><polygon points="591.96,462 607.98,459.98 599.8,448.98" fill="#cb7a8a" stroke="none" stroke-width="0" opacity="0.7"/><line x1="591.96" y1="435.45" x2="607.98" y2="459.98" stroke="#d99aa6" stroke-width="0.5" /><circle cx="599.8" cy="448.98" r="3.5" fill="#d08898" stroke="none" stroke-width="0" opacity="0.5"/><polygon points="593.81,457.06 615.81,460.09 616.81,462.29 595.31,459.26" fill="#8e4858" stroke="none" stroke-width="0" /><polygon points="595.31,459.26 616.81,462.29 619.39,484.8 594.3,480.65" fill="#c46e7f" stroke="none" stroke-width="0" /><polygon points="595.31,459.26 616.81,462.29 606.45,471.75" fill="#b86676" stroke="none" stroke-width="0" /><polygon points="594.3,480.65 619.39,484.8 606.45,471.75" fill="#cb7a8a" stroke="none" stroke-width="0" opacity="0.7"/><line x1="595.31" y1="459.26" x2="619.39" y2="484.8" stroke="#d99aa6" stroke-width="0.5" /><circle cx="606.45" cy="471.75" r="3.5" fill="#d08898" stroke="none" stroke-width="0" opacity="0.5"/><circle cx="595.31" cy="459.26" r="2.7" fill="#6b1e70" stroke="#3a0a40" stroke-width="0.6" /><circle cx="595.11" cy="459.16" r="1.03" fill="#d8a0d8" stroke="none" stroke-width="0" /><circle cx="616.81" cy="462.29" r="2.7" fill="#6b1e70" stroke="#3a0a40" stroke-width="0.6" /><circle cx="616.61" cy="462.19" r="1.03" fill="#d8a0d8" stroke="none" stroke-width="0" /><circle cx="619.39" cy="484.8" r="2.7" fill="#6b1e70" stroke="#3a0a40" stroke-width="0.6" /><circle cx="619.19" cy="484.7" r="1.03" fill="#d8a0d8" stroke="none" stroke-width="0" /><circle cx="594.3" cy="480.65" r="2.7" fill="#6b1e70" stroke="#3a0a40" stroke-width="0.6" /><circle cx="594.1" cy="480.55" r="1.03" fill="#d8a0d8" stroke="none" stroke-width="0" /><polygon points="617.44,444.01 640.45,449.16 641.45,451.36 618.94,446.21" fill="#8e4858" stroke="none" stroke-width="0" /><polygon points="618.94,446.21 641.45,451.36 642.46,474.88 619.95,471.75" fill="#c46e7f" stroke="none" stroke-width="0" /><polygon points="618.94,446.21 641.45,451.36 630.7,461.05" fill="#b86676" stroke="none" stroke-width="0" /><polygon points="619.95,471.75 642.46,474.88 630.7,461.05" fill="#cb7a8a" stroke="none" stroke-width="0" opacity="0.7"/><line x1="618.94" y1="446.21" x2="642.46" y2="474.88" stroke="#d99aa6" stroke-width="0.5" /><circle cx="630.7" cy="461.05" r="3.5" fill="#d08898" stroke="none" stroke-width="0" opacity="0.5"/><circle cx="618.94" cy="446.21" r="2.7" fill="#8c4d1c" stroke="#4a2508" stroke-width="0.6" /><circle cx="618.74" cy="446.11" r="1.03" fill="#e0a070" stroke="none" stroke-width="0" /><circle cx="641.45" cy="451.36" r="2.7" fill="#8c4d1c" stroke="#4a2508" stroke-width="0.6" /><circle cx="641.25" cy="451.26" r="1.03" fill="#e0a070" stroke="none" stroke-width="0" /><circle cx="642.46" cy="474.88" r="2.7" fill="#8c4d1c" stroke="#4a2508" stroke-width="0.6" /><circle cx="642.26" cy="474.78" r="1.03" fill="#e0a070" stroke="none" stroke-width="0" /><circle cx="619.95" cy="471.75" r="2.7" fill="#8c4d1c" stroke="#4a2508" stroke-width="0.6" /><circle cx="619.75" cy="471.65" r="1.03" fill="#e0a070" stroke="none" stroke-width="0" /><polygon points="641.08,433.01 666.11,439.06 667.11,441.26 642.58,435.21" fill="#8e4858" stroke="none" stroke-width="0" /><polygon points="642.58,435.21 667.11,441.26 666.1,465.78 643.7,461.75" fill="#c46e7f" stroke="none" stroke-width="0" /><polygon points="642.58,435.21 667.11,441.26 654.88,451" fill="#b86676" stroke="none" stroke-width="0" /><polygon points="643.7,461.75 666.1,465.78 654.88,451" fill="#cb7a8a" stroke="none" stroke-width="0" opacity="0.7"/><line x1="642.58" y1="435.21" x2="666.1" y2="465.78" stroke="#d99aa6" stroke-width="0.5" /><circle cx="654.88" cy="451" r="3.5" fill="#d08898" stroke="none" stroke-width="0" opacity="0.5"/><circle cx="642.58" cy="435.21" r="2.7" fill="#6b1e70" stroke="#3a0a40" stroke-width="0.6" /><circle cx="642.38" cy="435.11" r="1.03" fill="#d8a0d8" stroke="none" stroke-width="0" /><circle cx="667.11" cy="441.26" r="2.7" fill="#6b1e70" stroke="#3a0a40" stroke-width="0.6" /><circle cx="666.91" cy="441.16" r="1.03" fill="#d8a0d8" stroke="none" stroke-width="0" /><circle cx="666.1" cy="465.78" r="2.7" fill="#6b1e70" stroke="#3a0a40" stroke-width="0.6" /><circle cx="665.9" cy="465.68" r="1.03" fill="#d8a0d8" stroke="none" stroke-width="0" /><circle cx="643.7" cy="461.75" r="2.7" fill="#6b1e70" stroke="#3a0a40" stroke-width="0.6" /><circle cx="643.5" cy="461.65" r="1.03" fill="#d8a0d8" stroke="none" stroke-width="0" /><circle cx="604.5" cy="438.5" r="2.7" fill="#6b1e70" stroke="#3a0a40" stroke-width="0.6" /><circle cx="604.3" cy="438.4" r="1.03" fill="#d8a0d8" stroke="none" stroke-width="0" /><circle cx="608" cy="442.5" r="2.7" fill="#6b1e70" stroke="#3a0a40" stroke-width="0.6" /><circle cx="607.8" cy="442.4" r="1.03" fill="#d8a0d8" stroke="none" stroke-width="0" /><circle cx="620.4" cy="446" r="2.7" fill="#6b1e70" stroke="#3a0a40" stroke-width="0.6" /><circle cx="620.2" cy="445.9" r="1.03" fill="#d8a0d8" stroke="none" stroke-width="0" /><circle cx="623" cy="468.5" r="2.7" fill="#6b1e70" stroke="#3a0a40" stroke-width="0.6" /><circle cx="622.8" cy="468.4" r="1.03" fill="#d8a0d8" stroke="none" stroke-width="0" /><circle cx="620" cy="444" r="1.6" fill="#a8bce0" stroke="#4a6aa8" stroke-width="0.6" /><circle cx="632" cy="455" r="1.6" fill="#a8bce0" stroke="#4a6aa8" stroke-width="0.6" /><circle cx="644" cy="471" r="1.6" fill="#a8bce0" stroke="#4a6aa8" stroke-width="0.6" /><circle cx="650" cy="484" r="1.6" fill="#a8bce0" stroke="#4a6aa8" stroke-width="0.6" /><circle cx="665" cy="468" r="1.6" fill="#a8bce0" stroke="#4a6aa8" stroke-width="0.6" /></g><text x="51.6" y="506.6" font-size="10" font-weight="bold" fill="#2a1c1c" text-anchor="start" textLength="30.3" lengthAdjust="spacingAndGlyphs" >6.06 Å</text><text x="170" y="506.8" font-size="10" font-weight="bold" fill="#2a1c1c" text-anchor="start" textLength="31.5" lengthAdjust="spacingAndGlyphs" >6.25 Å</text><text x="266.3" y="506.8" font-size="10" font-weight="bold" fill="#2a1c1c" text-anchor="start" textLength="30.5" lengthAdjust="spacingAndGlyphs" >5.96 Å</text><text x="392.6" y="507.4" font-size="10" font-weight="bold" fill="#2a1c1c" text-anchor="start" textLength="29.7" lengthAdjust="spacingAndGlyphs" >5.99 Å</text><text x="489.7" y="507.3" font-size="10" font-weight="bold" fill="#2a1c1c" text-anchor="start" textLength="30.1" lengthAdjust="spacingAndGlyphs" >5.94 Å</text><text x="616.9" y="507.4" font-size="10" font-weight="bold" fill="#2a1c1c" text-anchor="start" textLength="30.3" lengthAdjust="spacingAndGlyphs" >5.96 Å</text><text x="91.2" y="496.7" font-size="10.4" font-weight="bold" fill="#c21b4b" textLength="66.4" lengthAdjust="spacingAndGlyphs"><tspan font-style="italic">Δd</tspan><tspan font-size="6.8" dy="3.2">100</tspan><tspan dy="-3.2"> = 0.19 Å</tspan></text><text x="312.5" y="497.4" font-size="10.4" font-weight="bold" fill="#2a1c1c" textLength="65.8" lengthAdjust="spacingAndGlyphs"><tspan font-style="italic">Δd</tspan><tspan font-size="6.8" dy="3.2">110</tspan><tspan dy="-3.2"> = 0.03 Å</tspan></text><text x="535.2" y="497.3" font-size="10.4" font-weight="bold" fill="#2a1c1c" textLength="65.3" lengthAdjust="spacingAndGlyphs"><tspan font-style="italic">Δd</tspan><tspan font-size="6.8" dy="3.2">111</tspan><tspan dy="-3.2"> = 0.02 Å</tspan></text><polygon points="89,501.1 154.5,501.1 154.5,499.1 164.5,503.1 154.5,507.1 154.5,505.1 89,505.1" fill="url(#gdd1)" stroke="none" stroke-width="0" /><polygon points="309.3,502.9 373.5,502.9 373.5,500.9 383.5,504.9 373.5,508.9 373.5,506.9 309.3,506.9" fill="url(#gdd2)" stroke="none" stroke-width="0" /><polygon points="531,503.3 592.9,503.3 592.9,501.3 602.9,505.3 592.9,509.3 592.9,507.3 531,507.3" fill="url(#gdd3)" stroke="none" stroke-width="0" /><rect x="16" y="511.8" width="106.5" height="22.4" fill="none" stroke="#231815" stroke-width="1.2" stroke-dasharray="2.2,2.2"/><circle cx="23.6" cy="523.8" r="5.2" fill="#eeb0ba" stroke="none" stroke-width="0" /><text x="32.8" y="526.8" font-size="11" font-weight="bold" fill="#1c1616" text-anchor="start" textLength="8" lengthAdjust="spacingAndGlyphs" >A</text><circle cx="48.6" cy="523.8" r="2.6" fill="#7f9ecc" stroke="none" stroke-width="0" /><text x="53.7" y="526.8" font-size="11" font-weight="bold" fill="#1c1616" text-anchor="start" textLength="15.5" lengthAdjust="spacingAndGlyphs" >Pb</text><circle cx="78.5" cy="523.8" r="2.3" fill="#1c2d8c" stroke="none" stroke-width="0" /><text x="84.3" y="526.8" font-size="11" font-weight="bold" fill="#1c1616" text-anchor="start" textLength="3.2" lengthAdjust="spacingAndGlyphs" >I</text><circle cx="99.3" cy="523.8" r="2.3" fill="#c8143c" stroke="none" stroke-width="0" /><text x="105.1" y="526.8" font-size="11" font-weight="bold" fill="#1c1616" text-anchor="start" textLength="13" lengthAdjust="spacingAndGlyphs" >Br</text></svg>
</body></html>
